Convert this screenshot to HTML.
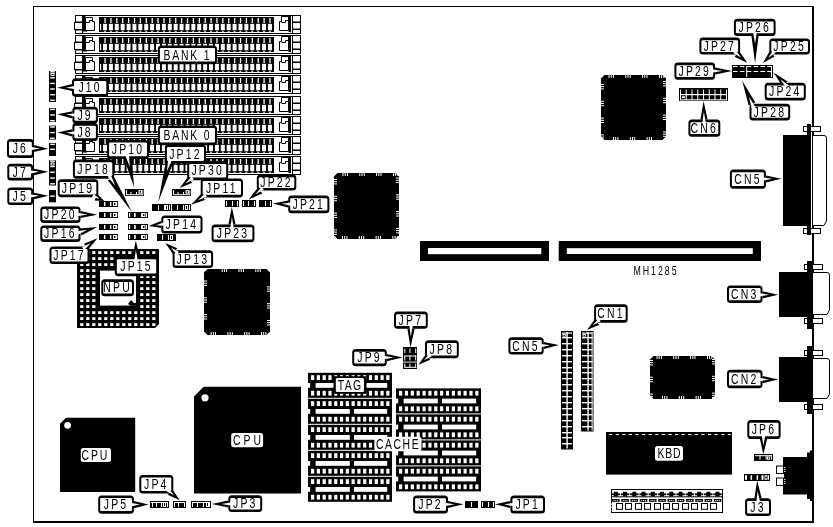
<!DOCTYPE html>
<html><head><meta charset="utf-8"><style>
html,body{margin:0;padding:0;background:#fff;width:833px;height:527px;overflow:hidden}
svg{display:block;will-change:transform}
text{font-family:"Liberation Sans",sans-serif}
</style></head><body>
<svg width="833" height="527" viewBox="0 0 833 527">
<rect x="33.5" y="6.5" width="779" height="515" fill="#fff" stroke="#000" stroke-width="1"/>
<rect x="813.00" y="6.00" width="1.00" height="517.00" fill="#000" />
<rect x="33.00" y="522.00" width="781.00" height="1.00" fill="#000" />
<rect x="75.5" y="15.5" width="225" height="18" fill="#fff" stroke="#000" stroke-width="1"/>
<rect x="75.50" y="15.50" width="7.00" height="6.50" fill="#fff" stroke="#000" stroke-width="1" />
<rect x="74.50" y="22.50" width="8.00" height="7.00" fill="#fff" stroke="#000" stroke-width="1" />
<rect x="75.50" y="30.00" width="7.00" height="3.50" fill="#fff" stroke="#000" stroke-width="1" />
<rect x="82.00" y="15.00" width="3.50" height="16.50" fill="#000" />
<rect x="85.00" y="30.50" width="2.00" height="1.00" fill="#000" />
<path d="M85.5 17.5 H92.5 V21.5 H94.5 V30.5 H85.5 Z M85.5 22.5 H89.5 V20.5 H92.5" fill="none" stroke="#000" stroke-width="1"/>
<rect x="99.00" y="17.00" width="175.00" height="15.00" fill="#000" />
<rect x="104.40" y="18.00" width="1.30" height="5.00" fill="#fff" />
<rect x="103.00" y="23.80" width="4.00" height="6.40" fill="#fff" />
<rect x="104.00" y="30.80" width="2.00" height="0.90" fill="#fff" />
<rect x="110.29" y="18.00" width="1.30" height="5.00" fill="#fff" />
<rect x="108.89" y="23.80" width="4.00" height="6.40" fill="#fff" />
<rect x="109.89" y="30.80" width="2.00" height="0.90" fill="#fff" />
<rect x="116.18" y="18.00" width="1.30" height="5.00" fill="#fff" />
<rect x="114.78" y="23.80" width="4.00" height="6.40" fill="#fff" />
<rect x="115.78" y="30.80" width="2.00" height="0.90" fill="#fff" />
<rect x="122.07" y="18.00" width="1.30" height="5.00" fill="#fff" />
<rect x="120.67" y="23.80" width="4.00" height="6.40" fill="#fff" />
<rect x="121.67" y="30.80" width="2.00" height="0.90" fill="#fff" />
<rect x="127.96" y="18.00" width="1.30" height="5.00" fill="#fff" />
<rect x="126.56" y="23.80" width="4.00" height="6.40" fill="#fff" />
<rect x="127.56" y="30.80" width="2.00" height="0.90" fill="#fff" />
<rect x="133.85" y="18.00" width="1.30" height="5.00" fill="#fff" />
<rect x="132.45" y="23.80" width="4.00" height="6.40" fill="#fff" />
<rect x="133.45" y="30.80" width="2.00" height="0.90" fill="#fff" />
<rect x="139.74" y="18.00" width="1.30" height="5.00" fill="#fff" />
<rect x="138.34" y="23.80" width="4.00" height="6.40" fill="#fff" />
<rect x="139.34" y="30.80" width="2.00" height="0.90" fill="#fff" />
<rect x="145.63" y="18.00" width="1.30" height="5.00" fill="#fff" />
<rect x="144.23" y="23.80" width="4.00" height="6.40" fill="#fff" />
<rect x="145.23" y="30.80" width="2.00" height="0.90" fill="#fff" />
<rect x="151.52" y="18.00" width="1.30" height="5.00" fill="#fff" />
<rect x="150.12" y="23.80" width="4.00" height="6.40" fill="#fff" />
<rect x="151.12" y="30.80" width="2.00" height="0.90" fill="#fff" />
<rect x="157.41" y="18.00" width="1.30" height="5.00" fill="#fff" />
<rect x="156.01" y="23.80" width="4.00" height="6.40" fill="#fff" />
<rect x="157.01" y="30.80" width="2.00" height="0.90" fill="#fff" />
<rect x="163.30" y="18.00" width="1.30" height="5.00" fill="#fff" />
<rect x="161.90" y="23.80" width="4.00" height="6.40" fill="#fff" />
<rect x="162.90" y="30.80" width="2.00" height="0.90" fill="#fff" />
<rect x="169.19" y="18.00" width="1.30" height="5.00" fill="#fff" />
<rect x="167.79" y="23.80" width="4.00" height="6.40" fill="#fff" />
<rect x="168.79" y="30.80" width="2.00" height="0.90" fill="#fff" />
<rect x="175.08" y="18.00" width="1.30" height="5.00" fill="#fff" />
<rect x="173.68" y="23.80" width="4.00" height="6.40" fill="#fff" />
<rect x="174.68" y="30.80" width="2.00" height="0.90" fill="#fff" />
<rect x="180.97" y="18.00" width="1.30" height="5.00" fill="#fff" />
<rect x="179.57" y="23.80" width="4.00" height="6.40" fill="#fff" />
<rect x="180.57" y="30.80" width="2.00" height="0.90" fill="#fff" />
<rect x="186.86" y="18.00" width="1.30" height="5.00" fill="#fff" />
<rect x="185.46" y="23.80" width="4.00" height="6.40" fill="#fff" />
<rect x="186.46" y="30.80" width="2.00" height="0.90" fill="#fff" />
<rect x="192.75" y="18.00" width="1.30" height="5.00" fill="#fff" />
<rect x="191.35" y="23.80" width="4.00" height="6.40" fill="#fff" />
<rect x="192.35" y="30.80" width="2.00" height="0.90" fill="#fff" />
<rect x="198.64" y="18.00" width="1.30" height="5.00" fill="#fff" />
<rect x="197.24" y="23.80" width="4.00" height="6.40" fill="#fff" />
<rect x="198.24" y="30.80" width="2.00" height="0.90" fill="#fff" />
<rect x="204.53" y="18.00" width="1.30" height="5.00" fill="#fff" />
<rect x="203.13" y="23.80" width="4.00" height="6.40" fill="#fff" />
<rect x="204.13" y="30.80" width="2.00" height="0.90" fill="#fff" />
<rect x="210.42" y="18.00" width="1.30" height="5.00" fill="#fff" />
<rect x="209.02" y="23.80" width="4.00" height="6.40" fill="#fff" />
<rect x="210.02" y="30.80" width="2.00" height="0.90" fill="#fff" />
<rect x="216.31" y="18.00" width="1.30" height="5.00" fill="#fff" />
<rect x="214.91" y="23.80" width="4.00" height="6.40" fill="#fff" />
<rect x="215.91" y="30.80" width="2.00" height="0.90" fill="#fff" />
<rect x="222.20" y="18.00" width="1.30" height="5.00" fill="#fff" />
<rect x="220.80" y="23.80" width="4.00" height="6.40" fill="#fff" />
<rect x="221.80" y="30.80" width="2.00" height="0.90" fill="#fff" />
<rect x="228.09" y="18.00" width="1.30" height="5.00" fill="#fff" />
<rect x="226.69" y="23.80" width="4.00" height="6.40" fill="#fff" />
<rect x="227.69" y="30.80" width="2.00" height="0.90" fill="#fff" />
<rect x="233.98" y="18.00" width="1.30" height="5.00" fill="#fff" />
<rect x="232.58" y="23.80" width="4.00" height="6.40" fill="#fff" />
<rect x="233.58" y="30.80" width="2.00" height="0.90" fill="#fff" />
<rect x="239.87" y="18.00" width="1.30" height="5.00" fill="#fff" />
<rect x="238.47" y="23.80" width="4.00" height="6.40" fill="#fff" />
<rect x="239.47" y="30.80" width="2.00" height="0.90" fill="#fff" />
<rect x="245.76" y="18.00" width="1.30" height="5.00" fill="#fff" />
<rect x="244.36" y="23.80" width="4.00" height="6.40" fill="#fff" />
<rect x="245.36" y="30.80" width="2.00" height="0.90" fill="#fff" />
<rect x="251.65" y="18.00" width="1.30" height="5.00" fill="#fff" />
<rect x="250.25" y="23.80" width="4.00" height="6.40" fill="#fff" />
<rect x="251.25" y="30.80" width="2.00" height="0.90" fill="#fff" />
<rect x="257.54" y="18.00" width="1.30" height="5.00" fill="#fff" />
<rect x="256.14" y="23.80" width="4.00" height="6.40" fill="#fff" />
<rect x="257.14" y="30.80" width="2.00" height="0.90" fill="#fff" />
<rect x="263.43" y="18.00" width="1.30" height="5.00" fill="#fff" />
<rect x="262.03" y="23.80" width="4.00" height="6.40" fill="#fff" />
<rect x="263.03" y="30.80" width="2.00" height="0.90" fill="#fff" />
<rect x="269.32" y="18.00" width="1.30" height="5.00" fill="#fff" />
<rect x="267.92" y="23.80" width="4.00" height="6.40" fill="#fff" />
<rect x="268.92" y="30.80" width="2.00" height="0.90" fill="#fff" />
<rect x="100.00" y="24.00" width="1.20" height="6.00" fill="#fff" />
<path d="M279.5 21.5 H281.5 V16.5 H288.5 V30.5 H279.5 Z M281.5 22.5 H285.5 V20.5 H288.5" fill="none" stroke="#000" stroke-width="1"/>
<rect x="288.50" y="16.00" width="2.50" height="16.00" fill="#000" />
<rect x="292.00" y="15.50" width="1.00" height="17.50" fill="#000" />
<rect x="292.50" y="15.50" width="8.00" height="6.50" fill="#fff" stroke="#000" stroke-width="1" />
<rect x="292.50" y="22.50" width="8.00" height="6.50" fill="#fff" stroke="#000" stroke-width="1" />
<rect x="292.50" y="29.50" width="8.00" height="4.00" fill="#fff" stroke="#000" stroke-width="1" />
<rect x="75.5" y="35.5" width="225" height="18" fill="#fff" stroke="#000" stroke-width="1"/>
<rect x="75.50" y="35.50" width="7.00" height="6.50" fill="#fff" stroke="#000" stroke-width="1" />
<rect x="74.50" y="42.50" width="8.00" height="7.00" fill="#fff" stroke="#000" stroke-width="1" />
<rect x="75.50" y="50.00" width="7.00" height="3.50" fill="#fff" stroke="#000" stroke-width="1" />
<rect x="82.00" y="35.00" width="3.50" height="16.50" fill="#000" />
<rect x="85.00" y="50.50" width="2.00" height="1.00" fill="#000" />
<path d="M85.5 37.5 H92.5 V41.5 H94.5 V50.5 H85.5 Z M85.5 42.5 H89.5 V40.5 H92.5" fill="none" stroke="#000" stroke-width="1"/>
<rect x="99.00" y="37.00" width="175.00" height="15.00" fill="#000" />
<rect x="104.40" y="38.00" width="1.30" height="5.00" fill="#fff" />
<rect x="103.00" y="43.80" width="4.00" height="6.40" fill="#fff" />
<rect x="104.00" y="50.80" width="2.00" height="0.90" fill="#fff" />
<rect x="110.29" y="38.00" width="1.30" height="5.00" fill="#fff" />
<rect x="108.89" y="43.80" width="4.00" height="6.40" fill="#fff" />
<rect x="109.89" y="50.80" width="2.00" height="0.90" fill="#fff" />
<rect x="116.18" y="38.00" width="1.30" height="5.00" fill="#fff" />
<rect x="114.78" y="43.80" width="4.00" height="6.40" fill="#fff" />
<rect x="115.78" y="50.80" width="2.00" height="0.90" fill="#fff" />
<rect x="122.07" y="38.00" width="1.30" height="5.00" fill="#fff" />
<rect x="120.67" y="43.80" width="4.00" height="6.40" fill="#fff" />
<rect x="121.67" y="50.80" width="2.00" height="0.90" fill="#fff" />
<rect x="127.96" y="38.00" width="1.30" height="5.00" fill="#fff" />
<rect x="126.56" y="43.80" width="4.00" height="6.40" fill="#fff" />
<rect x="127.56" y="50.80" width="2.00" height="0.90" fill="#fff" />
<rect x="133.85" y="38.00" width="1.30" height="5.00" fill="#fff" />
<rect x="132.45" y="43.80" width="4.00" height="6.40" fill="#fff" />
<rect x="133.45" y="50.80" width="2.00" height="0.90" fill="#fff" />
<rect x="139.74" y="38.00" width="1.30" height="5.00" fill="#fff" />
<rect x="138.34" y="43.80" width="4.00" height="6.40" fill="#fff" />
<rect x="139.34" y="50.80" width="2.00" height="0.90" fill="#fff" />
<rect x="145.63" y="38.00" width="1.30" height="5.00" fill="#fff" />
<rect x="144.23" y="43.80" width="4.00" height="6.40" fill="#fff" />
<rect x="145.23" y="50.80" width="2.00" height="0.90" fill="#fff" />
<rect x="151.52" y="38.00" width="1.30" height="5.00" fill="#fff" />
<rect x="150.12" y="43.80" width="4.00" height="6.40" fill="#fff" />
<rect x="151.12" y="50.80" width="2.00" height="0.90" fill="#fff" />
<rect x="157.41" y="38.00" width="1.30" height="5.00" fill="#fff" />
<rect x="156.01" y="43.80" width="4.00" height="6.40" fill="#fff" />
<rect x="157.01" y="50.80" width="2.00" height="0.90" fill="#fff" />
<rect x="163.30" y="38.00" width="1.30" height="5.00" fill="#fff" />
<rect x="161.90" y="43.80" width="4.00" height="6.40" fill="#fff" />
<rect x="162.90" y="50.80" width="2.00" height="0.90" fill="#fff" />
<rect x="169.19" y="38.00" width="1.30" height="5.00" fill="#fff" />
<rect x="167.79" y="43.80" width="4.00" height="6.40" fill="#fff" />
<rect x="168.79" y="50.80" width="2.00" height="0.90" fill="#fff" />
<rect x="175.08" y="38.00" width="1.30" height="5.00" fill="#fff" />
<rect x="173.68" y="43.80" width="4.00" height="6.40" fill="#fff" />
<rect x="174.68" y="50.80" width="2.00" height="0.90" fill="#fff" />
<rect x="180.97" y="38.00" width="1.30" height="5.00" fill="#fff" />
<rect x="179.57" y="43.80" width="4.00" height="6.40" fill="#fff" />
<rect x="180.57" y="50.80" width="2.00" height="0.90" fill="#fff" />
<rect x="186.86" y="38.00" width="1.30" height="5.00" fill="#fff" />
<rect x="185.46" y="43.80" width="4.00" height="6.40" fill="#fff" />
<rect x="186.46" y="50.80" width="2.00" height="0.90" fill="#fff" />
<rect x="192.75" y="38.00" width="1.30" height="5.00" fill="#fff" />
<rect x="191.35" y="43.80" width="4.00" height="6.40" fill="#fff" />
<rect x="192.35" y="50.80" width="2.00" height="0.90" fill="#fff" />
<rect x="198.64" y="38.00" width="1.30" height="5.00" fill="#fff" />
<rect x="197.24" y="43.80" width="4.00" height="6.40" fill="#fff" />
<rect x="198.24" y="50.80" width="2.00" height="0.90" fill="#fff" />
<rect x="204.53" y="38.00" width="1.30" height="5.00" fill="#fff" />
<rect x="203.13" y="43.80" width="4.00" height="6.40" fill="#fff" />
<rect x="204.13" y="50.80" width="2.00" height="0.90" fill="#fff" />
<rect x="210.42" y="38.00" width="1.30" height="5.00" fill="#fff" />
<rect x="209.02" y="43.80" width="4.00" height="6.40" fill="#fff" />
<rect x="210.02" y="50.80" width="2.00" height="0.90" fill="#fff" />
<rect x="216.31" y="38.00" width="1.30" height="5.00" fill="#fff" />
<rect x="214.91" y="43.80" width="4.00" height="6.40" fill="#fff" />
<rect x="215.91" y="50.80" width="2.00" height="0.90" fill="#fff" />
<rect x="222.20" y="38.00" width="1.30" height="5.00" fill="#fff" />
<rect x="220.80" y="43.80" width="4.00" height="6.40" fill="#fff" />
<rect x="221.80" y="50.80" width="2.00" height="0.90" fill="#fff" />
<rect x="228.09" y="38.00" width="1.30" height="5.00" fill="#fff" />
<rect x="226.69" y="43.80" width="4.00" height="6.40" fill="#fff" />
<rect x="227.69" y="50.80" width="2.00" height="0.90" fill="#fff" />
<rect x="233.98" y="38.00" width="1.30" height="5.00" fill="#fff" />
<rect x="232.58" y="43.80" width="4.00" height="6.40" fill="#fff" />
<rect x="233.58" y="50.80" width="2.00" height="0.90" fill="#fff" />
<rect x="239.87" y="38.00" width="1.30" height="5.00" fill="#fff" />
<rect x="238.47" y="43.80" width="4.00" height="6.40" fill="#fff" />
<rect x="239.47" y="50.80" width="2.00" height="0.90" fill="#fff" />
<rect x="245.76" y="38.00" width="1.30" height="5.00" fill="#fff" />
<rect x="244.36" y="43.80" width="4.00" height="6.40" fill="#fff" />
<rect x="245.36" y="50.80" width="2.00" height="0.90" fill="#fff" />
<rect x="251.65" y="38.00" width="1.30" height="5.00" fill="#fff" />
<rect x="250.25" y="43.80" width="4.00" height="6.40" fill="#fff" />
<rect x="251.25" y="50.80" width="2.00" height="0.90" fill="#fff" />
<rect x="257.54" y="38.00" width="1.30" height="5.00" fill="#fff" />
<rect x="256.14" y="43.80" width="4.00" height="6.40" fill="#fff" />
<rect x="257.14" y="50.80" width="2.00" height="0.90" fill="#fff" />
<rect x="263.43" y="38.00" width="1.30" height="5.00" fill="#fff" />
<rect x="262.03" y="43.80" width="4.00" height="6.40" fill="#fff" />
<rect x="263.03" y="50.80" width="2.00" height="0.90" fill="#fff" />
<rect x="269.32" y="38.00" width="1.30" height="5.00" fill="#fff" />
<rect x="267.92" y="43.80" width="4.00" height="6.40" fill="#fff" />
<rect x="268.92" y="50.80" width="2.00" height="0.90" fill="#fff" />
<rect x="100.00" y="44.00" width="1.20" height="6.00" fill="#fff" />
<path d="M279.5 41.5 H281.5 V36.5 H288.5 V50.5 H279.5 Z M281.5 42.5 H285.5 V40.5 H288.5" fill="none" stroke="#000" stroke-width="1"/>
<rect x="288.50" y="36.00" width="2.50" height="16.00" fill="#000" />
<rect x="292.00" y="35.50" width="1.00" height="17.50" fill="#000" />
<rect x="292.50" y="35.50" width="8.00" height="6.50" fill="#fff" stroke="#000" stroke-width="1" />
<rect x="292.50" y="42.50" width="8.00" height="6.50" fill="#fff" stroke="#000" stroke-width="1" />
<rect x="292.50" y="49.50" width="8.00" height="4.00" fill="#fff" stroke="#000" stroke-width="1" />
<rect x="75.5" y="55.5" width="225" height="18" fill="#fff" stroke="#000" stroke-width="1"/>
<rect x="75.50" y="55.50" width="7.00" height="6.50" fill="#fff" stroke="#000" stroke-width="1" />
<rect x="74.50" y="62.50" width="8.00" height="7.00" fill="#fff" stroke="#000" stroke-width="1" />
<rect x="75.50" y="70.00" width="7.00" height="3.50" fill="#fff" stroke="#000" stroke-width="1" />
<rect x="82.00" y="55.00" width="3.50" height="16.50" fill="#000" />
<rect x="85.00" y="70.50" width="2.00" height="1.00" fill="#000" />
<path d="M85.5 57.5 H92.5 V61.5 H94.5 V70.5 H85.5 Z M85.5 62.5 H89.5 V60.5 H92.5" fill="none" stroke="#000" stroke-width="1"/>
<rect x="99.00" y="57.00" width="175.00" height="15.00" fill="#000" />
<rect x="104.40" y="58.00" width="1.30" height="5.00" fill="#fff" />
<rect x="103.00" y="63.80" width="4.00" height="6.40" fill="#fff" />
<rect x="104.00" y="70.80" width="2.00" height="0.90" fill="#fff" />
<rect x="110.29" y="58.00" width="1.30" height="5.00" fill="#fff" />
<rect x="108.89" y="63.80" width="4.00" height="6.40" fill="#fff" />
<rect x="109.89" y="70.80" width="2.00" height="0.90" fill="#fff" />
<rect x="116.18" y="58.00" width="1.30" height="5.00" fill="#fff" />
<rect x="114.78" y="63.80" width="4.00" height="6.40" fill="#fff" />
<rect x="115.78" y="70.80" width="2.00" height="0.90" fill="#fff" />
<rect x="122.07" y="58.00" width="1.30" height="5.00" fill="#fff" />
<rect x="120.67" y="63.80" width="4.00" height="6.40" fill="#fff" />
<rect x="121.67" y="70.80" width="2.00" height="0.90" fill="#fff" />
<rect x="127.96" y="58.00" width="1.30" height="5.00" fill="#fff" />
<rect x="126.56" y="63.80" width="4.00" height="6.40" fill="#fff" />
<rect x="127.56" y="70.80" width="2.00" height="0.90" fill="#fff" />
<rect x="133.85" y="58.00" width="1.30" height="5.00" fill="#fff" />
<rect x="132.45" y="63.80" width="4.00" height="6.40" fill="#fff" />
<rect x="133.45" y="70.80" width="2.00" height="0.90" fill="#fff" />
<rect x="139.74" y="58.00" width="1.30" height="5.00" fill="#fff" />
<rect x="138.34" y="63.80" width="4.00" height="6.40" fill="#fff" />
<rect x="139.34" y="70.80" width="2.00" height="0.90" fill="#fff" />
<rect x="145.63" y="58.00" width="1.30" height="5.00" fill="#fff" />
<rect x="144.23" y="63.80" width="4.00" height="6.40" fill="#fff" />
<rect x="145.23" y="70.80" width="2.00" height="0.90" fill="#fff" />
<rect x="151.52" y="58.00" width="1.30" height="5.00" fill="#fff" />
<rect x="150.12" y="63.80" width="4.00" height="6.40" fill="#fff" />
<rect x="151.12" y="70.80" width="2.00" height="0.90" fill="#fff" />
<rect x="157.41" y="58.00" width="1.30" height="5.00" fill="#fff" />
<rect x="156.01" y="63.80" width="4.00" height="6.40" fill="#fff" />
<rect x="157.01" y="70.80" width="2.00" height="0.90" fill="#fff" />
<rect x="163.30" y="58.00" width="1.30" height="5.00" fill="#fff" />
<rect x="161.90" y="63.80" width="4.00" height="6.40" fill="#fff" />
<rect x="162.90" y="70.80" width="2.00" height="0.90" fill="#fff" />
<rect x="169.19" y="58.00" width="1.30" height="5.00" fill="#fff" />
<rect x="167.79" y="63.80" width="4.00" height="6.40" fill="#fff" />
<rect x="168.79" y="70.80" width="2.00" height="0.90" fill="#fff" />
<rect x="175.08" y="58.00" width="1.30" height="5.00" fill="#fff" />
<rect x="173.68" y="63.80" width="4.00" height="6.40" fill="#fff" />
<rect x="174.68" y="70.80" width="2.00" height="0.90" fill="#fff" />
<rect x="180.97" y="58.00" width="1.30" height="5.00" fill="#fff" />
<rect x="179.57" y="63.80" width="4.00" height="6.40" fill="#fff" />
<rect x="180.57" y="70.80" width="2.00" height="0.90" fill="#fff" />
<rect x="186.86" y="58.00" width="1.30" height="5.00" fill="#fff" />
<rect x="185.46" y="63.80" width="4.00" height="6.40" fill="#fff" />
<rect x="186.46" y="70.80" width="2.00" height="0.90" fill="#fff" />
<rect x="192.75" y="58.00" width="1.30" height="5.00" fill="#fff" />
<rect x="191.35" y="63.80" width="4.00" height="6.40" fill="#fff" />
<rect x="192.35" y="70.80" width="2.00" height="0.90" fill="#fff" />
<rect x="198.64" y="58.00" width="1.30" height="5.00" fill="#fff" />
<rect x="197.24" y="63.80" width="4.00" height="6.40" fill="#fff" />
<rect x="198.24" y="70.80" width="2.00" height="0.90" fill="#fff" />
<rect x="204.53" y="58.00" width="1.30" height="5.00" fill="#fff" />
<rect x="203.13" y="63.80" width="4.00" height="6.40" fill="#fff" />
<rect x="204.13" y="70.80" width="2.00" height="0.90" fill="#fff" />
<rect x="210.42" y="58.00" width="1.30" height="5.00" fill="#fff" />
<rect x="209.02" y="63.80" width="4.00" height="6.40" fill="#fff" />
<rect x="210.02" y="70.80" width="2.00" height="0.90" fill="#fff" />
<rect x="216.31" y="58.00" width="1.30" height="5.00" fill="#fff" />
<rect x="214.91" y="63.80" width="4.00" height="6.40" fill="#fff" />
<rect x="215.91" y="70.80" width="2.00" height="0.90" fill="#fff" />
<rect x="222.20" y="58.00" width="1.30" height="5.00" fill="#fff" />
<rect x="220.80" y="63.80" width="4.00" height="6.40" fill="#fff" />
<rect x="221.80" y="70.80" width="2.00" height="0.90" fill="#fff" />
<rect x="228.09" y="58.00" width="1.30" height="5.00" fill="#fff" />
<rect x="226.69" y="63.80" width="4.00" height="6.40" fill="#fff" />
<rect x="227.69" y="70.80" width="2.00" height="0.90" fill="#fff" />
<rect x="233.98" y="58.00" width="1.30" height="5.00" fill="#fff" />
<rect x="232.58" y="63.80" width="4.00" height="6.40" fill="#fff" />
<rect x="233.58" y="70.80" width="2.00" height="0.90" fill="#fff" />
<rect x="239.87" y="58.00" width="1.30" height="5.00" fill="#fff" />
<rect x="238.47" y="63.80" width="4.00" height="6.40" fill="#fff" />
<rect x="239.47" y="70.80" width="2.00" height="0.90" fill="#fff" />
<rect x="245.76" y="58.00" width="1.30" height="5.00" fill="#fff" />
<rect x="244.36" y="63.80" width="4.00" height="6.40" fill="#fff" />
<rect x="245.36" y="70.80" width="2.00" height="0.90" fill="#fff" />
<rect x="251.65" y="58.00" width="1.30" height="5.00" fill="#fff" />
<rect x="250.25" y="63.80" width="4.00" height="6.40" fill="#fff" />
<rect x="251.25" y="70.80" width="2.00" height="0.90" fill="#fff" />
<rect x="257.54" y="58.00" width="1.30" height="5.00" fill="#fff" />
<rect x="256.14" y="63.80" width="4.00" height="6.40" fill="#fff" />
<rect x="257.14" y="70.80" width="2.00" height="0.90" fill="#fff" />
<rect x="263.43" y="58.00" width="1.30" height="5.00" fill="#fff" />
<rect x="262.03" y="63.80" width="4.00" height="6.40" fill="#fff" />
<rect x="263.03" y="70.80" width="2.00" height="0.90" fill="#fff" />
<rect x="269.32" y="58.00" width="1.30" height="5.00" fill="#fff" />
<rect x="267.92" y="63.80" width="4.00" height="6.40" fill="#fff" />
<rect x="268.92" y="70.80" width="2.00" height="0.90" fill="#fff" />
<rect x="100.00" y="64.00" width="1.20" height="6.00" fill="#fff" />
<path d="M279.5 61.5 H281.5 V56.5 H288.5 V70.5 H279.5 Z M281.5 62.5 H285.5 V60.5 H288.5" fill="none" stroke="#000" stroke-width="1"/>
<rect x="288.50" y="56.00" width="2.50" height="16.00" fill="#000" />
<rect x="292.00" y="55.50" width="1.00" height="17.50" fill="#000" />
<rect x="292.50" y="55.50" width="8.00" height="6.50" fill="#fff" stroke="#000" stroke-width="1" />
<rect x="292.50" y="62.50" width="8.00" height="6.50" fill="#fff" stroke="#000" stroke-width="1" />
<rect x="292.50" y="69.50" width="8.00" height="4.00" fill="#fff" stroke="#000" stroke-width="1" />
<rect x="75.5" y="75.5" width="225" height="18" fill="#fff" stroke="#000" stroke-width="1"/>
<rect x="75.50" y="75.50" width="7.00" height="6.50" fill="#fff" stroke="#000" stroke-width="1" />
<rect x="74.50" y="82.50" width="8.00" height="7.00" fill="#fff" stroke="#000" stroke-width="1" />
<rect x="75.50" y="90.00" width="7.00" height="3.50" fill="#fff" stroke="#000" stroke-width="1" />
<rect x="82.00" y="75.00" width="3.50" height="16.50" fill="#000" />
<rect x="85.00" y="90.50" width="2.00" height="1.00" fill="#000" />
<path d="M85.5 77.5 H92.5 V81.5 H94.5 V90.5 H85.5 Z M85.5 82.5 H89.5 V80.5 H92.5" fill="none" stroke="#000" stroke-width="1"/>
<rect x="99.00" y="77.00" width="175.00" height="15.00" fill="#000" />
<rect x="104.40" y="78.00" width="1.30" height="5.00" fill="#fff" />
<rect x="103.00" y="83.80" width="4.00" height="6.40" fill="#fff" />
<rect x="104.00" y="90.80" width="2.00" height="0.90" fill="#fff" />
<rect x="110.29" y="78.00" width="1.30" height="5.00" fill="#fff" />
<rect x="108.89" y="83.80" width="4.00" height="6.40" fill="#fff" />
<rect x="109.89" y="90.80" width="2.00" height="0.90" fill="#fff" />
<rect x="116.18" y="78.00" width="1.30" height="5.00" fill="#fff" />
<rect x="114.78" y="83.80" width="4.00" height="6.40" fill="#fff" />
<rect x="115.78" y="90.80" width="2.00" height="0.90" fill="#fff" />
<rect x="122.07" y="78.00" width="1.30" height="5.00" fill="#fff" />
<rect x="120.67" y="83.80" width="4.00" height="6.40" fill="#fff" />
<rect x="121.67" y="90.80" width="2.00" height="0.90" fill="#fff" />
<rect x="127.96" y="78.00" width="1.30" height="5.00" fill="#fff" />
<rect x="126.56" y="83.80" width="4.00" height="6.40" fill="#fff" />
<rect x="127.56" y="90.80" width="2.00" height="0.90" fill="#fff" />
<rect x="133.85" y="78.00" width="1.30" height="5.00" fill="#fff" />
<rect x="132.45" y="83.80" width="4.00" height="6.40" fill="#fff" />
<rect x="133.45" y="90.80" width="2.00" height="0.90" fill="#fff" />
<rect x="139.74" y="78.00" width="1.30" height="5.00" fill="#fff" />
<rect x="138.34" y="83.80" width="4.00" height="6.40" fill="#fff" />
<rect x="139.34" y="90.80" width="2.00" height="0.90" fill="#fff" />
<rect x="145.63" y="78.00" width="1.30" height="5.00" fill="#fff" />
<rect x="144.23" y="83.80" width="4.00" height="6.40" fill="#fff" />
<rect x="145.23" y="90.80" width="2.00" height="0.90" fill="#fff" />
<rect x="151.52" y="78.00" width="1.30" height="5.00" fill="#fff" />
<rect x="150.12" y="83.80" width="4.00" height="6.40" fill="#fff" />
<rect x="151.12" y="90.80" width="2.00" height="0.90" fill="#fff" />
<rect x="157.41" y="78.00" width="1.30" height="5.00" fill="#fff" />
<rect x="156.01" y="83.80" width="4.00" height="6.40" fill="#fff" />
<rect x="157.01" y="90.80" width="2.00" height="0.90" fill="#fff" />
<rect x="163.30" y="78.00" width="1.30" height="5.00" fill="#fff" />
<rect x="161.90" y="83.80" width="4.00" height="6.40" fill="#fff" />
<rect x="162.90" y="90.80" width="2.00" height="0.90" fill="#fff" />
<rect x="169.19" y="78.00" width="1.30" height="5.00" fill="#fff" />
<rect x="167.79" y="83.80" width="4.00" height="6.40" fill="#fff" />
<rect x="168.79" y="90.80" width="2.00" height="0.90" fill="#fff" />
<rect x="175.08" y="78.00" width="1.30" height="5.00" fill="#fff" />
<rect x="173.68" y="83.80" width="4.00" height="6.40" fill="#fff" />
<rect x="174.68" y="90.80" width="2.00" height="0.90" fill="#fff" />
<rect x="180.97" y="78.00" width="1.30" height="5.00" fill="#fff" />
<rect x="179.57" y="83.80" width="4.00" height="6.40" fill="#fff" />
<rect x="180.57" y="90.80" width="2.00" height="0.90" fill="#fff" />
<rect x="186.86" y="78.00" width="1.30" height="5.00" fill="#fff" />
<rect x="185.46" y="83.80" width="4.00" height="6.40" fill="#fff" />
<rect x="186.46" y="90.80" width="2.00" height="0.90" fill="#fff" />
<rect x="192.75" y="78.00" width="1.30" height="5.00" fill="#fff" />
<rect x="191.35" y="83.80" width="4.00" height="6.40" fill="#fff" />
<rect x="192.35" y="90.80" width="2.00" height="0.90" fill="#fff" />
<rect x="198.64" y="78.00" width="1.30" height="5.00" fill="#fff" />
<rect x="197.24" y="83.80" width="4.00" height="6.40" fill="#fff" />
<rect x="198.24" y="90.80" width="2.00" height="0.90" fill="#fff" />
<rect x="204.53" y="78.00" width="1.30" height="5.00" fill="#fff" />
<rect x="203.13" y="83.80" width="4.00" height="6.40" fill="#fff" />
<rect x="204.13" y="90.80" width="2.00" height="0.90" fill="#fff" />
<rect x="210.42" y="78.00" width="1.30" height="5.00" fill="#fff" />
<rect x="209.02" y="83.80" width="4.00" height="6.40" fill="#fff" />
<rect x="210.02" y="90.80" width="2.00" height="0.90" fill="#fff" />
<rect x="216.31" y="78.00" width="1.30" height="5.00" fill="#fff" />
<rect x="214.91" y="83.80" width="4.00" height="6.40" fill="#fff" />
<rect x="215.91" y="90.80" width="2.00" height="0.90" fill="#fff" />
<rect x="222.20" y="78.00" width="1.30" height="5.00" fill="#fff" />
<rect x="220.80" y="83.80" width="4.00" height="6.40" fill="#fff" />
<rect x="221.80" y="90.80" width="2.00" height="0.90" fill="#fff" />
<rect x="228.09" y="78.00" width="1.30" height="5.00" fill="#fff" />
<rect x="226.69" y="83.80" width="4.00" height="6.40" fill="#fff" />
<rect x="227.69" y="90.80" width="2.00" height="0.90" fill="#fff" />
<rect x="233.98" y="78.00" width="1.30" height="5.00" fill="#fff" />
<rect x="232.58" y="83.80" width="4.00" height="6.40" fill="#fff" />
<rect x="233.58" y="90.80" width="2.00" height="0.90" fill="#fff" />
<rect x="239.87" y="78.00" width="1.30" height="5.00" fill="#fff" />
<rect x="238.47" y="83.80" width="4.00" height="6.40" fill="#fff" />
<rect x="239.47" y="90.80" width="2.00" height="0.90" fill="#fff" />
<rect x="245.76" y="78.00" width="1.30" height="5.00" fill="#fff" />
<rect x="244.36" y="83.80" width="4.00" height="6.40" fill="#fff" />
<rect x="245.36" y="90.80" width="2.00" height="0.90" fill="#fff" />
<rect x="251.65" y="78.00" width="1.30" height="5.00" fill="#fff" />
<rect x="250.25" y="83.80" width="4.00" height="6.40" fill="#fff" />
<rect x="251.25" y="90.80" width="2.00" height="0.90" fill="#fff" />
<rect x="257.54" y="78.00" width="1.30" height="5.00" fill="#fff" />
<rect x="256.14" y="83.80" width="4.00" height="6.40" fill="#fff" />
<rect x="257.14" y="90.80" width="2.00" height="0.90" fill="#fff" />
<rect x="263.43" y="78.00" width="1.30" height="5.00" fill="#fff" />
<rect x="262.03" y="83.80" width="4.00" height="6.40" fill="#fff" />
<rect x="263.03" y="90.80" width="2.00" height="0.90" fill="#fff" />
<rect x="269.32" y="78.00" width="1.30" height="5.00" fill="#fff" />
<rect x="267.92" y="83.80" width="4.00" height="6.40" fill="#fff" />
<rect x="268.92" y="90.80" width="2.00" height="0.90" fill="#fff" />
<rect x="100.00" y="84.00" width="1.20" height="6.00" fill="#fff" />
<path d="M279.5 81.5 H281.5 V76.5 H288.5 V90.5 H279.5 Z M281.5 82.5 H285.5 V80.5 H288.5" fill="none" stroke="#000" stroke-width="1"/>
<rect x="288.50" y="76.00" width="2.50" height="16.00" fill="#000" />
<rect x="292.00" y="75.50" width="1.00" height="17.50" fill="#000" />
<rect x="292.50" y="75.50" width="8.00" height="6.50" fill="#fff" stroke="#000" stroke-width="1" />
<rect x="292.50" y="82.50" width="8.00" height="6.50" fill="#fff" stroke="#000" stroke-width="1" />
<rect x="292.50" y="89.50" width="8.00" height="4.00" fill="#fff" stroke="#000" stroke-width="1" />
<rect x="75.5" y="96.5" width="225" height="18" fill="#fff" stroke="#000" stroke-width="1"/>
<rect x="75.50" y="96.50" width="7.00" height="6.50" fill="#fff" stroke="#000" stroke-width="1" />
<rect x="74.50" y="103.50" width="8.00" height="7.00" fill="#fff" stroke="#000" stroke-width="1" />
<rect x="75.50" y="111.00" width="7.00" height="3.50" fill="#fff" stroke="#000" stroke-width="1" />
<rect x="82.00" y="96.00" width="3.50" height="16.50" fill="#000" />
<rect x="85.00" y="111.50" width="2.00" height="1.00" fill="#000" />
<path d="M85.5 98.5 H92.5 V102.5 H94.5 V111.5 H85.5 Z M85.5 103.5 H89.5 V101.5 H92.5" fill="none" stroke="#000" stroke-width="1"/>
<rect x="99.00" y="98.00" width="175.00" height="15.00" fill="#000" />
<rect x="104.40" y="99.00" width="1.30" height="5.00" fill="#fff" />
<rect x="103.00" y="104.80" width="4.00" height="6.40" fill="#fff" />
<rect x="104.00" y="111.80" width="2.00" height="0.90" fill="#fff" />
<rect x="110.29" y="99.00" width="1.30" height="5.00" fill="#fff" />
<rect x="108.89" y="104.80" width="4.00" height="6.40" fill="#fff" />
<rect x="109.89" y="111.80" width="2.00" height="0.90" fill="#fff" />
<rect x="116.18" y="99.00" width="1.30" height="5.00" fill="#fff" />
<rect x="114.78" y="104.80" width="4.00" height="6.40" fill="#fff" />
<rect x="115.78" y="111.80" width="2.00" height="0.90" fill="#fff" />
<rect x="122.07" y="99.00" width="1.30" height="5.00" fill="#fff" />
<rect x="120.67" y="104.80" width="4.00" height="6.40" fill="#fff" />
<rect x="121.67" y="111.80" width="2.00" height="0.90" fill="#fff" />
<rect x="127.96" y="99.00" width="1.30" height="5.00" fill="#fff" />
<rect x="126.56" y="104.80" width="4.00" height="6.40" fill="#fff" />
<rect x="127.56" y="111.80" width="2.00" height="0.90" fill="#fff" />
<rect x="133.85" y="99.00" width="1.30" height="5.00" fill="#fff" />
<rect x="132.45" y="104.80" width="4.00" height="6.40" fill="#fff" />
<rect x="133.45" y="111.80" width="2.00" height="0.90" fill="#fff" />
<rect x="139.74" y="99.00" width="1.30" height="5.00" fill="#fff" />
<rect x="138.34" y="104.80" width="4.00" height="6.40" fill="#fff" />
<rect x="139.34" y="111.80" width="2.00" height="0.90" fill="#fff" />
<rect x="145.63" y="99.00" width="1.30" height="5.00" fill="#fff" />
<rect x="144.23" y="104.80" width="4.00" height="6.40" fill="#fff" />
<rect x="145.23" y="111.80" width="2.00" height="0.90" fill="#fff" />
<rect x="151.52" y="99.00" width="1.30" height="5.00" fill="#fff" />
<rect x="150.12" y="104.80" width="4.00" height="6.40" fill="#fff" />
<rect x="151.12" y="111.80" width="2.00" height="0.90" fill="#fff" />
<rect x="157.41" y="99.00" width="1.30" height="5.00" fill="#fff" />
<rect x="156.01" y="104.80" width="4.00" height="6.40" fill="#fff" />
<rect x="157.01" y="111.80" width="2.00" height="0.90" fill="#fff" />
<rect x="163.30" y="99.00" width="1.30" height="5.00" fill="#fff" />
<rect x="161.90" y="104.80" width="4.00" height="6.40" fill="#fff" />
<rect x="162.90" y="111.80" width="2.00" height="0.90" fill="#fff" />
<rect x="169.19" y="99.00" width="1.30" height="5.00" fill="#fff" />
<rect x="167.79" y="104.80" width="4.00" height="6.40" fill="#fff" />
<rect x="168.79" y="111.80" width="2.00" height="0.90" fill="#fff" />
<rect x="175.08" y="99.00" width="1.30" height="5.00" fill="#fff" />
<rect x="173.68" y="104.80" width="4.00" height="6.40" fill="#fff" />
<rect x="174.68" y="111.80" width="2.00" height="0.90" fill="#fff" />
<rect x="180.97" y="99.00" width="1.30" height="5.00" fill="#fff" />
<rect x="179.57" y="104.80" width="4.00" height="6.40" fill="#fff" />
<rect x="180.57" y="111.80" width="2.00" height="0.90" fill="#fff" />
<rect x="186.86" y="99.00" width="1.30" height="5.00" fill="#fff" />
<rect x="185.46" y="104.80" width="4.00" height="6.40" fill="#fff" />
<rect x="186.46" y="111.80" width="2.00" height="0.90" fill="#fff" />
<rect x="192.75" y="99.00" width="1.30" height="5.00" fill="#fff" />
<rect x="191.35" y="104.80" width="4.00" height="6.40" fill="#fff" />
<rect x="192.35" y="111.80" width="2.00" height="0.90" fill="#fff" />
<rect x="198.64" y="99.00" width="1.30" height="5.00" fill="#fff" />
<rect x="197.24" y="104.80" width="4.00" height="6.40" fill="#fff" />
<rect x="198.24" y="111.80" width="2.00" height="0.90" fill="#fff" />
<rect x="204.53" y="99.00" width="1.30" height="5.00" fill="#fff" />
<rect x="203.13" y="104.80" width="4.00" height="6.40" fill="#fff" />
<rect x="204.13" y="111.80" width="2.00" height="0.90" fill="#fff" />
<rect x="210.42" y="99.00" width="1.30" height="5.00" fill="#fff" />
<rect x="209.02" y="104.80" width="4.00" height="6.40" fill="#fff" />
<rect x="210.02" y="111.80" width="2.00" height="0.90" fill="#fff" />
<rect x="216.31" y="99.00" width="1.30" height="5.00" fill="#fff" />
<rect x="214.91" y="104.80" width="4.00" height="6.40" fill="#fff" />
<rect x="215.91" y="111.80" width="2.00" height="0.90" fill="#fff" />
<rect x="222.20" y="99.00" width="1.30" height="5.00" fill="#fff" />
<rect x="220.80" y="104.80" width="4.00" height="6.40" fill="#fff" />
<rect x="221.80" y="111.80" width="2.00" height="0.90" fill="#fff" />
<rect x="228.09" y="99.00" width="1.30" height="5.00" fill="#fff" />
<rect x="226.69" y="104.80" width="4.00" height="6.40" fill="#fff" />
<rect x="227.69" y="111.80" width="2.00" height="0.90" fill="#fff" />
<rect x="233.98" y="99.00" width="1.30" height="5.00" fill="#fff" />
<rect x="232.58" y="104.80" width="4.00" height="6.40" fill="#fff" />
<rect x="233.58" y="111.80" width="2.00" height="0.90" fill="#fff" />
<rect x="239.87" y="99.00" width="1.30" height="5.00" fill="#fff" />
<rect x="238.47" y="104.80" width="4.00" height="6.40" fill="#fff" />
<rect x="239.47" y="111.80" width="2.00" height="0.90" fill="#fff" />
<rect x="245.76" y="99.00" width="1.30" height="5.00" fill="#fff" />
<rect x="244.36" y="104.80" width="4.00" height="6.40" fill="#fff" />
<rect x="245.36" y="111.80" width="2.00" height="0.90" fill="#fff" />
<rect x="251.65" y="99.00" width="1.30" height="5.00" fill="#fff" />
<rect x="250.25" y="104.80" width="4.00" height="6.40" fill="#fff" />
<rect x="251.25" y="111.80" width="2.00" height="0.90" fill="#fff" />
<rect x="257.54" y="99.00" width="1.30" height="5.00" fill="#fff" />
<rect x="256.14" y="104.80" width="4.00" height="6.40" fill="#fff" />
<rect x="257.14" y="111.80" width="2.00" height="0.90" fill="#fff" />
<rect x="263.43" y="99.00" width="1.30" height="5.00" fill="#fff" />
<rect x="262.03" y="104.80" width="4.00" height="6.40" fill="#fff" />
<rect x="263.03" y="111.80" width="2.00" height="0.90" fill="#fff" />
<rect x="269.32" y="99.00" width="1.30" height="5.00" fill="#fff" />
<rect x="267.92" y="104.80" width="4.00" height="6.40" fill="#fff" />
<rect x="268.92" y="111.80" width="2.00" height="0.90" fill="#fff" />
<rect x="100.00" y="105.00" width="1.20" height="6.00" fill="#fff" />
<path d="M279.5 102.5 H281.5 V97.5 H288.5 V111.5 H279.5 Z M281.5 103.5 H285.5 V101.5 H288.5" fill="none" stroke="#000" stroke-width="1"/>
<rect x="288.50" y="97.00" width="2.50" height="16.00" fill="#000" />
<rect x="292.00" y="96.50" width="1.00" height="17.50" fill="#000" />
<rect x="292.50" y="96.50" width="8.00" height="6.50" fill="#fff" stroke="#000" stroke-width="1" />
<rect x="292.50" y="103.50" width="8.00" height="6.50" fill="#fff" stroke="#000" stroke-width="1" />
<rect x="292.50" y="110.50" width="8.00" height="4.00" fill="#fff" stroke="#000" stroke-width="1" />
<rect x="75.5" y="116.5" width="225" height="18" fill="#fff" stroke="#000" stroke-width="1"/>
<rect x="75.50" y="116.50" width="7.00" height="6.50" fill="#fff" stroke="#000" stroke-width="1" />
<rect x="74.50" y="123.50" width="8.00" height="7.00" fill="#fff" stroke="#000" stroke-width="1" />
<rect x="75.50" y="131.00" width="7.00" height="3.50" fill="#fff" stroke="#000" stroke-width="1" />
<rect x="82.00" y="116.00" width="3.50" height="16.50" fill="#000" />
<rect x="85.00" y="131.50" width="2.00" height="1.00" fill="#000" />
<path d="M85.5 118.5 H92.5 V122.5 H94.5 V131.5 H85.5 Z M85.5 123.5 H89.5 V121.5 H92.5" fill="none" stroke="#000" stroke-width="1"/>
<rect x="99.00" y="118.00" width="175.00" height="15.00" fill="#000" />
<rect x="104.40" y="119.00" width="1.30" height="5.00" fill="#fff" />
<rect x="103.00" y="124.80" width="4.00" height="6.40" fill="#fff" />
<rect x="104.00" y="131.80" width="2.00" height="0.90" fill="#fff" />
<rect x="110.29" y="119.00" width="1.30" height="5.00" fill="#fff" />
<rect x="108.89" y="124.80" width="4.00" height="6.40" fill="#fff" />
<rect x="109.89" y="131.80" width="2.00" height="0.90" fill="#fff" />
<rect x="116.18" y="119.00" width="1.30" height="5.00" fill="#fff" />
<rect x="114.78" y="124.80" width="4.00" height="6.40" fill="#fff" />
<rect x="115.78" y="131.80" width="2.00" height="0.90" fill="#fff" />
<rect x="122.07" y="119.00" width="1.30" height="5.00" fill="#fff" />
<rect x="120.67" y="124.80" width="4.00" height="6.40" fill="#fff" />
<rect x="121.67" y="131.80" width="2.00" height="0.90" fill="#fff" />
<rect x="127.96" y="119.00" width="1.30" height="5.00" fill="#fff" />
<rect x="126.56" y="124.80" width="4.00" height="6.40" fill="#fff" />
<rect x="127.56" y="131.80" width="2.00" height="0.90" fill="#fff" />
<rect x="133.85" y="119.00" width="1.30" height="5.00" fill="#fff" />
<rect x="132.45" y="124.80" width="4.00" height="6.40" fill="#fff" />
<rect x="133.45" y="131.80" width="2.00" height="0.90" fill="#fff" />
<rect x="139.74" y="119.00" width="1.30" height="5.00" fill="#fff" />
<rect x="138.34" y="124.80" width="4.00" height="6.40" fill="#fff" />
<rect x="139.34" y="131.80" width="2.00" height="0.90" fill="#fff" />
<rect x="145.63" y="119.00" width="1.30" height="5.00" fill="#fff" />
<rect x="144.23" y="124.80" width="4.00" height="6.40" fill="#fff" />
<rect x="145.23" y="131.80" width="2.00" height="0.90" fill="#fff" />
<rect x="151.52" y="119.00" width="1.30" height="5.00" fill="#fff" />
<rect x="150.12" y="124.80" width="4.00" height="6.40" fill="#fff" />
<rect x="151.12" y="131.80" width="2.00" height="0.90" fill="#fff" />
<rect x="157.41" y="119.00" width="1.30" height="5.00" fill="#fff" />
<rect x="156.01" y="124.80" width="4.00" height="6.40" fill="#fff" />
<rect x="157.01" y="131.80" width="2.00" height="0.90" fill="#fff" />
<rect x="163.30" y="119.00" width="1.30" height="5.00" fill="#fff" />
<rect x="161.90" y="124.80" width="4.00" height="6.40" fill="#fff" />
<rect x="162.90" y="131.80" width="2.00" height="0.90" fill="#fff" />
<rect x="169.19" y="119.00" width="1.30" height="5.00" fill="#fff" />
<rect x="167.79" y="124.80" width="4.00" height="6.40" fill="#fff" />
<rect x="168.79" y="131.80" width="2.00" height="0.90" fill="#fff" />
<rect x="175.08" y="119.00" width="1.30" height="5.00" fill="#fff" />
<rect x="173.68" y="124.80" width="4.00" height="6.40" fill="#fff" />
<rect x="174.68" y="131.80" width="2.00" height="0.90" fill="#fff" />
<rect x="180.97" y="119.00" width="1.30" height="5.00" fill="#fff" />
<rect x="179.57" y="124.80" width="4.00" height="6.40" fill="#fff" />
<rect x="180.57" y="131.80" width="2.00" height="0.90" fill="#fff" />
<rect x="186.86" y="119.00" width="1.30" height="5.00" fill="#fff" />
<rect x="185.46" y="124.80" width="4.00" height="6.40" fill="#fff" />
<rect x="186.46" y="131.80" width="2.00" height="0.90" fill="#fff" />
<rect x="192.75" y="119.00" width="1.30" height="5.00" fill="#fff" />
<rect x="191.35" y="124.80" width="4.00" height="6.40" fill="#fff" />
<rect x="192.35" y="131.80" width="2.00" height="0.90" fill="#fff" />
<rect x="198.64" y="119.00" width="1.30" height="5.00" fill="#fff" />
<rect x="197.24" y="124.80" width="4.00" height="6.40" fill="#fff" />
<rect x="198.24" y="131.80" width="2.00" height="0.90" fill="#fff" />
<rect x="204.53" y="119.00" width="1.30" height="5.00" fill="#fff" />
<rect x="203.13" y="124.80" width="4.00" height="6.40" fill="#fff" />
<rect x="204.13" y="131.80" width="2.00" height="0.90" fill="#fff" />
<rect x="210.42" y="119.00" width="1.30" height="5.00" fill="#fff" />
<rect x="209.02" y="124.80" width="4.00" height="6.40" fill="#fff" />
<rect x="210.02" y="131.80" width="2.00" height="0.90" fill="#fff" />
<rect x="216.31" y="119.00" width="1.30" height="5.00" fill="#fff" />
<rect x="214.91" y="124.80" width="4.00" height="6.40" fill="#fff" />
<rect x="215.91" y="131.80" width="2.00" height="0.90" fill="#fff" />
<rect x="222.20" y="119.00" width="1.30" height="5.00" fill="#fff" />
<rect x="220.80" y="124.80" width="4.00" height="6.40" fill="#fff" />
<rect x="221.80" y="131.80" width="2.00" height="0.90" fill="#fff" />
<rect x="228.09" y="119.00" width="1.30" height="5.00" fill="#fff" />
<rect x="226.69" y="124.80" width="4.00" height="6.40" fill="#fff" />
<rect x="227.69" y="131.80" width="2.00" height="0.90" fill="#fff" />
<rect x="233.98" y="119.00" width="1.30" height="5.00" fill="#fff" />
<rect x="232.58" y="124.80" width="4.00" height="6.40" fill="#fff" />
<rect x="233.58" y="131.80" width="2.00" height="0.90" fill="#fff" />
<rect x="239.87" y="119.00" width="1.30" height="5.00" fill="#fff" />
<rect x="238.47" y="124.80" width="4.00" height="6.40" fill="#fff" />
<rect x="239.47" y="131.80" width="2.00" height="0.90" fill="#fff" />
<rect x="245.76" y="119.00" width="1.30" height="5.00" fill="#fff" />
<rect x="244.36" y="124.80" width="4.00" height="6.40" fill="#fff" />
<rect x="245.36" y="131.80" width="2.00" height="0.90" fill="#fff" />
<rect x="251.65" y="119.00" width="1.30" height="5.00" fill="#fff" />
<rect x="250.25" y="124.80" width="4.00" height="6.40" fill="#fff" />
<rect x="251.25" y="131.80" width="2.00" height="0.90" fill="#fff" />
<rect x="257.54" y="119.00" width="1.30" height="5.00" fill="#fff" />
<rect x="256.14" y="124.80" width="4.00" height="6.40" fill="#fff" />
<rect x="257.14" y="131.80" width="2.00" height="0.90" fill="#fff" />
<rect x="263.43" y="119.00" width="1.30" height="5.00" fill="#fff" />
<rect x="262.03" y="124.80" width="4.00" height="6.40" fill="#fff" />
<rect x="263.03" y="131.80" width="2.00" height="0.90" fill="#fff" />
<rect x="269.32" y="119.00" width="1.30" height="5.00" fill="#fff" />
<rect x="267.92" y="124.80" width="4.00" height="6.40" fill="#fff" />
<rect x="268.92" y="131.80" width="2.00" height="0.90" fill="#fff" />
<rect x="100.00" y="125.00" width="1.20" height="6.00" fill="#fff" />
<path d="M279.5 122.5 H281.5 V117.5 H288.5 V131.5 H279.5 Z M281.5 123.5 H285.5 V121.5 H288.5" fill="none" stroke="#000" stroke-width="1"/>
<rect x="288.50" y="117.00" width="2.50" height="16.00" fill="#000" />
<rect x="292.00" y="116.50" width="1.00" height="17.50" fill="#000" />
<rect x="292.50" y="116.50" width="8.00" height="6.50" fill="#fff" stroke="#000" stroke-width="1" />
<rect x="292.50" y="123.50" width="8.00" height="6.50" fill="#fff" stroke="#000" stroke-width="1" />
<rect x="292.50" y="130.50" width="8.00" height="4.00" fill="#fff" stroke="#000" stroke-width="1" />
<rect x="75.5" y="136.5" width="225" height="18" fill="#fff" stroke="#000" stroke-width="1"/>
<rect x="75.50" y="136.50" width="7.00" height="6.50" fill="#fff" stroke="#000" stroke-width="1" />
<rect x="74.50" y="143.50" width="8.00" height="7.00" fill="#fff" stroke="#000" stroke-width="1" />
<rect x="75.50" y="151.00" width="7.00" height="3.50" fill="#fff" stroke="#000" stroke-width="1" />
<rect x="82.00" y="136.00" width="3.50" height="16.50" fill="#000" />
<rect x="85.00" y="151.50" width="2.00" height="1.00" fill="#000" />
<path d="M85.5 138.5 H92.5 V142.5 H94.5 V151.5 H85.5 Z M85.5 143.5 H89.5 V141.5 H92.5" fill="none" stroke="#000" stroke-width="1"/>
<rect x="99.00" y="138.00" width="175.00" height="15.00" fill="#000" />
<rect x="104.40" y="139.00" width="1.30" height="5.00" fill="#fff" />
<rect x="103.00" y="144.80" width="4.00" height="6.40" fill="#fff" />
<rect x="104.00" y="151.80" width="2.00" height="0.90" fill="#fff" />
<rect x="110.29" y="139.00" width="1.30" height="5.00" fill="#fff" />
<rect x="108.89" y="144.80" width="4.00" height="6.40" fill="#fff" />
<rect x="109.89" y="151.80" width="2.00" height="0.90" fill="#fff" />
<rect x="116.18" y="139.00" width="1.30" height="5.00" fill="#fff" />
<rect x="114.78" y="144.80" width="4.00" height="6.40" fill="#fff" />
<rect x="115.78" y="151.80" width="2.00" height="0.90" fill="#fff" />
<rect x="122.07" y="139.00" width="1.30" height="5.00" fill="#fff" />
<rect x="120.67" y="144.80" width="4.00" height="6.40" fill="#fff" />
<rect x="121.67" y="151.80" width="2.00" height="0.90" fill="#fff" />
<rect x="127.96" y="139.00" width="1.30" height="5.00" fill="#fff" />
<rect x="126.56" y="144.80" width="4.00" height="6.40" fill="#fff" />
<rect x="127.56" y="151.80" width="2.00" height="0.90" fill="#fff" />
<rect x="133.85" y="139.00" width="1.30" height="5.00" fill="#fff" />
<rect x="132.45" y="144.80" width="4.00" height="6.40" fill="#fff" />
<rect x="133.45" y="151.80" width="2.00" height="0.90" fill="#fff" />
<rect x="139.74" y="139.00" width="1.30" height="5.00" fill="#fff" />
<rect x="138.34" y="144.80" width="4.00" height="6.40" fill="#fff" />
<rect x="139.34" y="151.80" width="2.00" height="0.90" fill="#fff" />
<rect x="145.63" y="139.00" width="1.30" height="5.00" fill="#fff" />
<rect x="144.23" y="144.80" width="4.00" height="6.40" fill="#fff" />
<rect x="145.23" y="151.80" width="2.00" height="0.90" fill="#fff" />
<rect x="151.52" y="139.00" width="1.30" height="5.00" fill="#fff" />
<rect x="150.12" y="144.80" width="4.00" height="6.40" fill="#fff" />
<rect x="151.12" y="151.80" width="2.00" height="0.90" fill="#fff" />
<rect x="157.41" y="139.00" width="1.30" height="5.00" fill="#fff" />
<rect x="156.01" y="144.80" width="4.00" height="6.40" fill="#fff" />
<rect x="157.01" y="151.80" width="2.00" height="0.90" fill="#fff" />
<rect x="163.30" y="139.00" width="1.30" height="5.00" fill="#fff" />
<rect x="161.90" y="144.80" width="4.00" height="6.40" fill="#fff" />
<rect x="162.90" y="151.80" width="2.00" height="0.90" fill="#fff" />
<rect x="169.19" y="139.00" width="1.30" height="5.00" fill="#fff" />
<rect x="167.79" y="144.80" width="4.00" height="6.40" fill="#fff" />
<rect x="168.79" y="151.80" width="2.00" height="0.90" fill="#fff" />
<rect x="175.08" y="139.00" width="1.30" height="5.00" fill="#fff" />
<rect x="173.68" y="144.80" width="4.00" height="6.40" fill="#fff" />
<rect x="174.68" y="151.80" width="2.00" height="0.90" fill="#fff" />
<rect x="180.97" y="139.00" width="1.30" height="5.00" fill="#fff" />
<rect x="179.57" y="144.80" width="4.00" height="6.40" fill="#fff" />
<rect x="180.57" y="151.80" width="2.00" height="0.90" fill="#fff" />
<rect x="186.86" y="139.00" width="1.30" height="5.00" fill="#fff" />
<rect x="185.46" y="144.80" width="4.00" height="6.40" fill="#fff" />
<rect x="186.46" y="151.80" width="2.00" height="0.90" fill="#fff" />
<rect x="192.75" y="139.00" width="1.30" height="5.00" fill="#fff" />
<rect x="191.35" y="144.80" width="4.00" height="6.40" fill="#fff" />
<rect x="192.35" y="151.80" width="2.00" height="0.90" fill="#fff" />
<rect x="198.64" y="139.00" width="1.30" height="5.00" fill="#fff" />
<rect x="197.24" y="144.80" width="4.00" height="6.40" fill="#fff" />
<rect x="198.24" y="151.80" width="2.00" height="0.90" fill="#fff" />
<rect x="204.53" y="139.00" width="1.30" height="5.00" fill="#fff" />
<rect x="203.13" y="144.80" width="4.00" height="6.40" fill="#fff" />
<rect x="204.13" y="151.80" width="2.00" height="0.90" fill="#fff" />
<rect x="210.42" y="139.00" width="1.30" height="5.00" fill="#fff" />
<rect x="209.02" y="144.80" width="4.00" height="6.40" fill="#fff" />
<rect x="210.02" y="151.80" width="2.00" height="0.90" fill="#fff" />
<rect x="216.31" y="139.00" width="1.30" height="5.00" fill="#fff" />
<rect x="214.91" y="144.80" width="4.00" height="6.40" fill="#fff" />
<rect x="215.91" y="151.80" width="2.00" height="0.90" fill="#fff" />
<rect x="222.20" y="139.00" width="1.30" height="5.00" fill="#fff" />
<rect x="220.80" y="144.80" width="4.00" height="6.40" fill="#fff" />
<rect x="221.80" y="151.80" width="2.00" height="0.90" fill="#fff" />
<rect x="228.09" y="139.00" width="1.30" height="5.00" fill="#fff" />
<rect x="226.69" y="144.80" width="4.00" height="6.40" fill="#fff" />
<rect x="227.69" y="151.80" width="2.00" height="0.90" fill="#fff" />
<rect x="233.98" y="139.00" width="1.30" height="5.00" fill="#fff" />
<rect x="232.58" y="144.80" width="4.00" height="6.40" fill="#fff" />
<rect x="233.58" y="151.80" width="2.00" height="0.90" fill="#fff" />
<rect x="239.87" y="139.00" width="1.30" height="5.00" fill="#fff" />
<rect x="238.47" y="144.80" width="4.00" height="6.40" fill="#fff" />
<rect x="239.47" y="151.80" width="2.00" height="0.90" fill="#fff" />
<rect x="245.76" y="139.00" width="1.30" height="5.00" fill="#fff" />
<rect x="244.36" y="144.80" width="4.00" height="6.40" fill="#fff" />
<rect x="245.36" y="151.80" width="2.00" height="0.90" fill="#fff" />
<rect x="251.65" y="139.00" width="1.30" height="5.00" fill="#fff" />
<rect x="250.25" y="144.80" width="4.00" height="6.40" fill="#fff" />
<rect x="251.25" y="151.80" width="2.00" height="0.90" fill="#fff" />
<rect x="257.54" y="139.00" width="1.30" height="5.00" fill="#fff" />
<rect x="256.14" y="144.80" width="4.00" height="6.40" fill="#fff" />
<rect x="257.14" y="151.80" width="2.00" height="0.90" fill="#fff" />
<rect x="263.43" y="139.00" width="1.30" height="5.00" fill="#fff" />
<rect x="262.03" y="144.80" width="4.00" height="6.40" fill="#fff" />
<rect x="263.03" y="151.80" width="2.00" height="0.90" fill="#fff" />
<rect x="269.32" y="139.00" width="1.30" height="5.00" fill="#fff" />
<rect x="267.92" y="144.80" width="4.00" height="6.40" fill="#fff" />
<rect x="268.92" y="151.80" width="2.00" height="0.90" fill="#fff" />
<rect x="100.00" y="145.00" width="1.20" height="6.00" fill="#fff" />
<path d="M279.5 142.5 H281.5 V137.5 H288.5 V151.5 H279.5 Z M281.5 143.5 H285.5 V141.5 H288.5" fill="none" stroke="#000" stroke-width="1"/>
<rect x="288.50" y="137.00" width="2.50" height="16.00" fill="#000" />
<rect x="292.00" y="136.50" width="1.00" height="17.50" fill="#000" />
<rect x="292.50" y="136.50" width="8.00" height="6.50" fill="#fff" stroke="#000" stroke-width="1" />
<rect x="292.50" y="143.50" width="8.00" height="6.50" fill="#fff" stroke="#000" stroke-width="1" />
<rect x="292.50" y="150.50" width="8.00" height="4.00" fill="#fff" stroke="#000" stroke-width="1" />
<rect x="75.5" y="156.5" width="225" height="18" fill="#fff" stroke="#000" stroke-width="1"/>
<rect x="75.50" y="156.50" width="7.00" height="6.50" fill="#fff" stroke="#000" stroke-width="1" />
<rect x="74.50" y="163.50" width="8.00" height="7.00" fill="#fff" stroke="#000" stroke-width="1" />
<rect x="75.50" y="171.00" width="7.00" height="3.50" fill="#fff" stroke="#000" stroke-width="1" />
<rect x="82.00" y="156.00" width="3.50" height="16.50" fill="#000" />
<rect x="85.00" y="171.50" width="2.00" height="1.00" fill="#000" />
<path d="M85.5 158.5 H92.5 V162.5 H94.5 V171.5 H85.5 Z M85.5 163.5 H89.5 V161.5 H92.5" fill="none" stroke="#000" stroke-width="1"/>
<rect x="99.00" y="158.00" width="175.00" height="15.00" fill="#000" />
<rect x="104.40" y="159.00" width="1.30" height="5.00" fill="#fff" />
<rect x="103.00" y="164.80" width="4.00" height="6.40" fill="#fff" />
<rect x="104.00" y="171.80" width="2.00" height="0.90" fill="#fff" />
<rect x="110.29" y="159.00" width="1.30" height="5.00" fill="#fff" />
<rect x="108.89" y="164.80" width="4.00" height="6.40" fill="#fff" />
<rect x="109.89" y="171.80" width="2.00" height="0.90" fill="#fff" />
<rect x="116.18" y="159.00" width="1.30" height="5.00" fill="#fff" />
<rect x="114.78" y="164.80" width="4.00" height="6.40" fill="#fff" />
<rect x="115.78" y="171.80" width="2.00" height="0.90" fill="#fff" />
<rect x="122.07" y="159.00" width="1.30" height="5.00" fill="#fff" />
<rect x="120.67" y="164.80" width="4.00" height="6.40" fill="#fff" />
<rect x="121.67" y="171.80" width="2.00" height="0.90" fill="#fff" />
<rect x="127.96" y="159.00" width="1.30" height="5.00" fill="#fff" />
<rect x="126.56" y="164.80" width="4.00" height="6.40" fill="#fff" />
<rect x="127.56" y="171.80" width="2.00" height="0.90" fill="#fff" />
<rect x="133.85" y="159.00" width="1.30" height="5.00" fill="#fff" />
<rect x="132.45" y="164.80" width="4.00" height="6.40" fill="#fff" />
<rect x="133.45" y="171.80" width="2.00" height="0.90" fill="#fff" />
<rect x="139.74" y="159.00" width="1.30" height="5.00" fill="#fff" />
<rect x="138.34" y="164.80" width="4.00" height="6.40" fill="#fff" />
<rect x="139.34" y="171.80" width="2.00" height="0.90" fill="#fff" />
<rect x="145.63" y="159.00" width="1.30" height="5.00" fill="#fff" />
<rect x="144.23" y="164.80" width="4.00" height="6.40" fill="#fff" />
<rect x="145.23" y="171.80" width="2.00" height="0.90" fill="#fff" />
<rect x="151.52" y="159.00" width="1.30" height="5.00" fill="#fff" />
<rect x="150.12" y="164.80" width="4.00" height="6.40" fill="#fff" />
<rect x="151.12" y="171.80" width="2.00" height="0.90" fill="#fff" />
<rect x="157.41" y="159.00" width="1.30" height="5.00" fill="#fff" />
<rect x="156.01" y="164.80" width="4.00" height="6.40" fill="#fff" />
<rect x="157.01" y="171.80" width="2.00" height="0.90" fill="#fff" />
<rect x="163.30" y="159.00" width="1.30" height="5.00" fill="#fff" />
<rect x="161.90" y="164.80" width="4.00" height="6.40" fill="#fff" />
<rect x="162.90" y="171.80" width="2.00" height="0.90" fill="#fff" />
<rect x="169.19" y="159.00" width="1.30" height="5.00" fill="#fff" />
<rect x="167.79" y="164.80" width="4.00" height="6.40" fill="#fff" />
<rect x="168.79" y="171.80" width="2.00" height="0.90" fill="#fff" />
<rect x="175.08" y="159.00" width="1.30" height="5.00" fill="#fff" />
<rect x="173.68" y="164.80" width="4.00" height="6.40" fill="#fff" />
<rect x="174.68" y="171.80" width="2.00" height="0.90" fill="#fff" />
<rect x="180.97" y="159.00" width="1.30" height="5.00" fill="#fff" />
<rect x="179.57" y="164.80" width="4.00" height="6.40" fill="#fff" />
<rect x="180.57" y="171.80" width="2.00" height="0.90" fill="#fff" />
<rect x="186.86" y="159.00" width="1.30" height="5.00" fill="#fff" />
<rect x="185.46" y="164.80" width="4.00" height="6.40" fill="#fff" />
<rect x="186.46" y="171.80" width="2.00" height="0.90" fill="#fff" />
<rect x="192.75" y="159.00" width="1.30" height="5.00" fill="#fff" />
<rect x="191.35" y="164.80" width="4.00" height="6.40" fill="#fff" />
<rect x="192.35" y="171.80" width="2.00" height="0.90" fill="#fff" />
<rect x="198.64" y="159.00" width="1.30" height="5.00" fill="#fff" />
<rect x="197.24" y="164.80" width="4.00" height="6.40" fill="#fff" />
<rect x="198.24" y="171.80" width="2.00" height="0.90" fill="#fff" />
<rect x="204.53" y="159.00" width="1.30" height="5.00" fill="#fff" />
<rect x="203.13" y="164.80" width="4.00" height="6.40" fill="#fff" />
<rect x="204.13" y="171.80" width="2.00" height="0.90" fill="#fff" />
<rect x="210.42" y="159.00" width="1.30" height="5.00" fill="#fff" />
<rect x="209.02" y="164.80" width="4.00" height="6.40" fill="#fff" />
<rect x="210.02" y="171.80" width="2.00" height="0.90" fill="#fff" />
<rect x="216.31" y="159.00" width="1.30" height="5.00" fill="#fff" />
<rect x="214.91" y="164.80" width="4.00" height="6.40" fill="#fff" />
<rect x="215.91" y="171.80" width="2.00" height="0.90" fill="#fff" />
<rect x="222.20" y="159.00" width="1.30" height="5.00" fill="#fff" />
<rect x="220.80" y="164.80" width="4.00" height="6.40" fill="#fff" />
<rect x="221.80" y="171.80" width="2.00" height="0.90" fill="#fff" />
<rect x="228.09" y="159.00" width="1.30" height="5.00" fill="#fff" />
<rect x="226.69" y="164.80" width="4.00" height="6.40" fill="#fff" />
<rect x="227.69" y="171.80" width="2.00" height="0.90" fill="#fff" />
<rect x="233.98" y="159.00" width="1.30" height="5.00" fill="#fff" />
<rect x="232.58" y="164.80" width="4.00" height="6.40" fill="#fff" />
<rect x="233.58" y="171.80" width="2.00" height="0.90" fill="#fff" />
<rect x="239.87" y="159.00" width="1.30" height="5.00" fill="#fff" />
<rect x="238.47" y="164.80" width="4.00" height="6.40" fill="#fff" />
<rect x="239.47" y="171.80" width="2.00" height="0.90" fill="#fff" />
<rect x="245.76" y="159.00" width="1.30" height="5.00" fill="#fff" />
<rect x="244.36" y="164.80" width="4.00" height="6.40" fill="#fff" />
<rect x="245.36" y="171.80" width="2.00" height="0.90" fill="#fff" />
<rect x="251.65" y="159.00" width="1.30" height="5.00" fill="#fff" />
<rect x="250.25" y="164.80" width="4.00" height="6.40" fill="#fff" />
<rect x="251.25" y="171.80" width="2.00" height="0.90" fill="#fff" />
<rect x="257.54" y="159.00" width="1.30" height="5.00" fill="#fff" />
<rect x="256.14" y="164.80" width="4.00" height="6.40" fill="#fff" />
<rect x="257.14" y="171.80" width="2.00" height="0.90" fill="#fff" />
<rect x="263.43" y="159.00" width="1.30" height="5.00" fill="#fff" />
<rect x="262.03" y="164.80" width="4.00" height="6.40" fill="#fff" />
<rect x="263.03" y="171.80" width="2.00" height="0.90" fill="#fff" />
<rect x="269.32" y="159.00" width="1.30" height="5.00" fill="#fff" />
<rect x="267.92" y="164.80" width="4.00" height="6.40" fill="#fff" />
<rect x="268.92" y="171.80" width="2.00" height="0.90" fill="#fff" />
<rect x="100.00" y="165.00" width="1.20" height="6.00" fill="#fff" />
<path d="M279.5 162.5 H281.5 V157.5 H288.5 V171.5 H279.5 Z M281.5 163.5 H285.5 V161.5 H288.5" fill="none" stroke="#000" stroke-width="1"/>
<rect x="288.50" y="157.00" width="2.50" height="16.00" fill="#000" />
<rect x="292.00" y="156.50" width="1.00" height="17.50" fill="#000" />
<rect x="292.50" y="156.50" width="8.00" height="6.50" fill="#fff" stroke="#000" stroke-width="1" />
<rect x="292.50" y="163.50" width="8.00" height="6.50" fill="#fff" stroke="#000" stroke-width="1" />
<rect x="292.50" y="170.50" width="8.00" height="4.00" fill="#fff" stroke="#000" stroke-width="1" />
<rect x="49.00" y="71.00" width="7.00" height="31.00" fill="#000" />
<rect x="50.20" y="71.10" width="4.60" height="1.40" fill="#fff" />
<rect x="50.20" y="77.10" width="4.60" height="1.40" fill="#fff" />
<rect x="50.20" y="82.70" width="4.60" height="1.40" fill="#fff" />
<rect x="50.20" y="88.30" width="4.60" height="1.40" fill="#fff" />
<rect x="50.20" y="94.00" width="4.60" height="1.40" fill="#fff" />
<rect x="50.20" y="99.60" width="4.60" height="1.40" fill="#fff" />
<rect x="50.50" y="73.00" width="4.00" height="3.00" fill="#fff" />
<rect x="51.50" y="74.00" width="2.00" height="1.20" fill="#000" />
<rect x="49.00" y="108.00" width="7.00" height="14.00" fill="#000" />
<rect x="50.20" y="108.70" width="4.60" height="1.40" fill="#fff" />
<rect x="50.20" y="114.30" width="4.60" height="1.40" fill="#fff" />
<rect x="50.20" y="120.00" width="4.60" height="1.40" fill="#fff" />
<rect x="49.00" y="125.60" width="7.00" height="14.00" fill="#000" />
<rect x="50.20" y="126.30" width="4.60" height="1.40" fill="#fff" />
<rect x="50.20" y="131.90" width="4.60" height="1.40" fill="#fff" />
<rect x="50.20" y="137.50" width="4.60" height="1.40" fill="#fff" />
<rect x="49.00" y="143.00" width="7.00" height="13.00" fill="#000" />
<rect x="50.20" y="143.70" width="4.60" height="1.40" fill="#fff" />
<rect x="50.20" y="148.60" width="4.60" height="1.40" fill="#fff" />
<rect x="49.00" y="160.30" width="7.00" height="25.20" fill="#000" />
<rect x="50.20" y="160.50" width="4.60" height="1.40" fill="#fff" />
<rect x="50.20" y="165.80" width="4.60" height="1.40" fill="#fff" />
<rect x="50.20" y="171.50" width="4.60" height="1.40" fill="#fff" />
<rect x="50.20" y="177.30" width="4.60" height="1.40" fill="#fff" />
<rect x="50.20" y="183.10" width="4.60" height="1.40" fill="#fff" />
<rect x="50.50" y="162.50" width="4.00" height="3.00" fill="#fff" />
<rect x="51.50" y="163.50" width="2.00" height="1.20" fill="#000" />
<rect x="49.00" y="190.00" width="7.00" height="12.30" fill="#000" />
<rect x="50.20" y="195.40" width="4.60" height="1.40" fill="#fff" />
<rect x="99.00" y="201.00" width="19.00" height="6.00" fill="#000" />
<rect x="104.00" y="202.00" width="1.40" height="4.00" fill="#fff" />
<rect x="110.00" y="202.00" width="1.40" height="4.00" fill="#fff" />
<rect x="113.00" y="202.00" width="3.20" height="4.00" fill="#fff" />
<rect x="114.00" y="203.00" width="1.40" height="2.00" fill="#000" />
<rect x="116.00" y="202.00" width="1.20" height="4.00" fill="#fff" />
<rect x="99.00" y="212.00" width="19.00" height="6.00" fill="#000" />
<rect x="104.00" y="213.00" width="1.40" height="4.00" fill="#fff" />
<rect x="110.00" y="213.00" width="1.40" height="4.00" fill="#fff" />
<rect x="113.00" y="213.00" width="3.20" height="4.00" fill="#fff" />
<rect x="114.00" y="214.00" width="1.40" height="2.00" fill="#000" />
<rect x="116.00" y="213.00" width="1.20" height="4.00" fill="#fff" />
<rect x="99.00" y="224.00" width="19.00" height="6.00" fill="#000" />
<rect x="104.00" y="225.00" width="1.40" height="4.00" fill="#fff" />
<rect x="110.00" y="225.00" width="1.40" height="4.00" fill="#fff" />
<rect x="113.00" y="225.00" width="3.20" height="4.00" fill="#fff" />
<rect x="114.00" y="226.00" width="1.40" height="2.00" fill="#000" />
<rect x="116.00" y="225.00" width="1.20" height="4.00" fill="#fff" />
<rect x="99.00" y="234.00" width="19.00" height="6.00" fill="#000" />
<rect x="104.00" y="235.00" width="1.40" height="4.00" fill="#fff" />
<rect x="110.00" y="235.00" width="1.40" height="4.00" fill="#fff" />
<rect x="113.00" y="235.00" width="3.20" height="4.00" fill="#fff" />
<rect x="114.00" y="236.00" width="1.40" height="2.00" fill="#000" />
<rect x="116.00" y="235.00" width="1.20" height="4.00" fill="#fff" />
<rect x="128.00" y="212.00" width="20.00" height="6.00" fill="#000" />
<rect x="129.00" y="213.00" width="1.20" height="4.00" fill="#fff" />
<rect x="134.00" y="213.00" width="1.70" height="4.00" fill="#fff" />
<rect x="141.00" y="213.00" width="1.20" height="4.00" fill="#fff" />
<rect x="146.00" y="213.00" width="1.00" height="4.00" fill="#fff" />
<rect x="142.00" y="213.00" width="3.40" height="4.00" fill="#fff" />
<rect x="143.00" y="214.00" width="1.40" height="2.00" fill="#000" />
<rect x="128.00" y="224.00" width="20.00" height="6.00" fill="#000" />
<rect x="129.00" y="225.00" width="1.20" height="4.00" fill="#fff" />
<rect x="134.00" y="225.00" width="1.70" height="4.00" fill="#fff" />
<rect x="141.00" y="225.00" width="1.20" height="4.00" fill="#fff" />
<rect x="146.00" y="225.00" width="1.00" height="4.00" fill="#fff" />
<rect x="142.00" y="225.00" width="3.40" height="4.00" fill="#fff" />
<rect x="143.00" y="226.00" width="1.40" height="2.00" fill="#000" />
<rect x="128.00" y="234.00" width="20.00" height="6.00" fill="#000" />
<rect x="129.00" y="235.00" width="1.20" height="4.00" fill="#fff" />
<rect x="134.00" y="235.00" width="1.70" height="4.00" fill="#fff" />
<rect x="141.00" y="235.00" width="1.20" height="4.00" fill="#fff" />
<rect x="146.00" y="235.00" width="1.00" height="4.00" fill="#fff" />
<rect x="142.00" y="235.00" width="3.40" height="4.00" fill="#fff" />
<rect x="143.00" y="236.00" width="1.40" height="2.00" fill="#000" />
<rect x="125.00" y="189.00" width="19.00" height="7.00" fill="#000" />
<rect x="126.00" y="194.20" width="17.00" height="1.00" fill="#fff" />
<rect x="126.00" y="190.00" width="1.00" height="4.50" fill="#fff" />
<rect x="130.50" y="192.00" width="1.00" height="2.50" fill="#fff" />
<rect x="136.00" y="192.00" width="1.00" height="2.50" fill="#fff" />
<rect x="138.50" y="190.20" width="3.50" height="3.40" fill="#fff" />
<rect x="139.60" y="191.20" width="1.40" height="1.40" fill="#000" />
<rect x="142.40" y="190.00" width="0.90" height="4.50" fill="#fff" />
<rect x="172.00" y="189.00" width="19.00" height="7.00" fill="#000" />
<rect x="173.00" y="194.20" width="17.00" height="1.00" fill="#fff" />
<rect x="173.00" y="190.00" width="1.00" height="4.50" fill="#fff" />
<rect x="177.50" y="192.00" width="1.00" height="2.50" fill="#fff" />
<rect x="183.00" y="192.00" width="1.00" height="2.50" fill="#fff" />
<rect x="185.50" y="190.20" width="3.50" height="3.40" fill="#fff" />
<rect x="186.60" y="191.20" width="1.40" height="1.40" fill="#000" />
<rect x="189.40" y="190.00" width="0.90" height="4.50" fill="#fff" />
<rect x="152.00" y="204.00" width="19.00" height="7.00" fill="#000" />
<rect x="158.00" y="205.00" width="1.00" height="5.00" fill="#fff" />
<rect x="164.00" y="205.00" width="1.00" height="5.00" fill="#fff" />
<rect x="169.00" y="205.00" width="1.00" height="5.00" fill="#fff" />
<rect x="165.00" y="205.00" width="3.00" height="5.00" fill="#fff" />
<rect x="166.00" y="206.00" width="1.00" height="3.00" fill="#000" />
<rect x="172.00" y="204.00" width="19.00" height="7.00" fill="#000" />
<rect x="177.00" y="205.00" width="1.00" height="5.00" fill="#fff" />
<rect x="183.00" y="205.00" width="1.00" height="5.00" fill="#fff" />
<rect x="189.00" y="205.00" width="1.00" height="5.00" fill="#fff" />
<rect x="185.00" y="205.00" width="3.00" height="5.00" fill="#fff" />
<rect x="186.00" y="206.00" width="1.00" height="3.00" fill="#000" />
<rect x="225.00" y="200.00" width="14.00" height="7.00" fill="#000" />
<rect x="226.00" y="201.00" width="1.00" height="5.00" fill="#fff" />
<rect x="232.00" y="201.00" width="1.00" height="5.00" fill="#fff" />
<rect x="237.00" y="201.00" width="1.00" height="5.00" fill="#fff" />
<rect x="242.00" y="200.00" width="14.00" height="7.00" fill="#000" />
<rect x="243.00" y="201.00" width="1.00" height="5.00" fill="#fff" />
<rect x="248.00" y="201.00" width="1.00" height="5.00" fill="#fff" />
<rect x="254.00" y="201.00" width="1.00" height="5.00" fill="#fff" />
<rect x="259.00" y="200.00" width="13.00" height="7.00" fill="#000" />
<rect x="265.00" y="201.00" width="1.00" height="5.00" fill="#fff" />
<rect x="270.00" y="201.00" width="1.00" height="5.00" fill="#fff" />
<rect x="150.00" y="501.00" width="19.00" height="7.00" fill="#000" />
<rect x="152.00" y="502.00" width="1.00" height="5.00" fill="#fff" />
<rect x="156.00" y="502.00" width="1.00" height="5.00" fill="#fff" />
<rect x="161.00" y="502.00" width="1.00" height="5.00" fill="#fff" />
<rect x="167.00" y="502.00" width="1.00" height="5.00" fill="#fff" />
<rect x="163.00" y="502.00" width="3.00" height="5.00" fill="#fff" />
<rect x="164.00" y="503.00" width="1.00" height="3.00" fill="#000" />
<rect x="151.00" y="502.00" width="17.00" height="1.00" fill="#fff" />
<rect x="173.00" y="501.00" width="13.00" height="7.00" fill="#000" />
<rect x="174.00" y="502.00" width="1.00" height="5.00" fill="#fff" />
<rect x="178.00" y="502.00" width="1.00" height="5.00" fill="#fff" />
<rect x="184.00" y="502.00" width="1.00" height="5.00" fill="#fff" />
<rect x="174.00" y="502.00" width="11.00" height="1.00" fill="#fff" />
<rect x="191.00" y="501.00" width="20.00" height="7.00" fill="#000" />
<rect x="192.00" y="502.00" width="1.00" height="5.00" fill="#fff" />
<rect x="197.00" y="502.00" width="1.00" height="5.00" fill="#fff" />
<rect x="203.00" y="502.00" width="1.00" height="5.00" fill="#fff" />
<rect x="209.00" y="502.00" width="1.00" height="5.00" fill="#fff" />
<rect x="206.00" y="502.00" width="3.00" height="5.00" fill="#fff" />
<rect x="207.00" y="503.00" width="1.00" height="3.00" fill="#000" />
<rect x="192.00" y="502.00" width="18.00" height="1.00" fill="#fff" />
<rect x="465.00" y="501.00" width="13.00" height="7.00" fill="#000" />
<rect x="471.00" y="502.00" width="1.00" height="5.00" fill="#fff" />
<rect x="481.00" y="501.00" width="14.00" height="7.00" fill="#000" />
<rect x="482.00" y="502.00" width="1.00" height="5.00" fill="#fff" />
<rect x="488.00" y="502.00" width="1.00" height="5.00" fill="#fff" />
<rect x="493.00" y="502.00" width="1.00" height="5.00" fill="#fff" />
<rect x="157.00" y="234.00" width="19.00" height="7.00" fill="#000" />
<rect x="162.00" y="235.00" width="1.00" height="5.00" fill="#fff" />
<rect x="168.00" y="235.00" width="1.00" height="5.00" fill="#fff" />
<rect x="170.00" y="235.00" width="3.00" height="5.00" fill="#fff" />
<rect x="171.00" y="236.00" width="1.00" height="3.00" fill="#000" />
<rect x="754.00" y="454.00" width="19.00" height="7.00" fill="#000" />
<rect x="755.00" y="455.20" width="17.00" height="1.00" fill="#fff" />
<rect x="759.50" y="455.20" width="1.00" height="4.60" fill="#fff" />
<rect x="765.60" y="455.20" width="1.00" height="4.60" fill="#fff" />
<rect x="770.80" y="455.20" width="1.00" height="4.60" fill="#fff" />
<rect x="767.00" y="456.50" width="3.00" height="3.20" fill="#fff" />
<rect x="768.00" y="457.40" width="1.20" height="1.40" fill="#000" />
<polygon points="77,249 159,249 159,324 155,328 77,328" fill="#000"/>
<rect x="80.20" y="251.20" width="3.20" height="2.80" fill="#fff" />
<rect x="86.20" y="251.20" width="3.20" height="2.80" fill="#fff" />
<rect x="92.20" y="251.20" width="3.20" height="2.80" fill="#fff" />
<rect x="98.20" y="251.20" width="3.20" height="2.80" fill="#fff" />
<rect x="104.20" y="251.20" width="3.20" height="2.80" fill="#fff" />
<rect x="110.20" y="251.20" width="3.20" height="2.80" fill="#fff" />
<rect x="116.20" y="251.20" width="3.20" height="2.80" fill="#fff" />
<rect x="122.20" y="251.20" width="3.20" height="2.80" fill="#fff" />
<rect x="128.20" y="251.20" width="3.20" height="2.80" fill="#fff" />
<rect x="134.20" y="251.20" width="3.20" height="2.80" fill="#fff" />
<rect x="140.20" y="251.20" width="3.20" height="2.80" fill="#fff" />
<rect x="146.20" y="251.20" width="3.20" height="2.80" fill="#fff" />
<rect x="152.20" y="251.20" width="3.20" height="2.80" fill="#fff" />
<rect x="80.20" y="257.20" width="3.20" height="2.80" fill="#fff" />
<rect x="86.20" y="257.20" width="3.20" height="2.80" fill="#fff" />
<rect x="92.20" y="257.20" width="3.20" height="2.80" fill="#fff" />
<rect x="98.20" y="257.20" width="3.20" height="2.80" fill="#fff" />
<rect x="104.20" y="257.20" width="3.20" height="2.80" fill="#fff" />
<rect x="110.20" y="257.20" width="3.20" height="2.80" fill="#fff" />
<rect x="116.20" y="257.20" width="3.20" height="2.80" fill="#fff" />
<rect x="122.20" y="257.20" width="3.20" height="2.80" fill="#fff" />
<rect x="128.20" y="257.20" width="3.20" height="2.80" fill="#fff" />
<rect x="134.20" y="257.20" width="3.20" height="2.80" fill="#fff" />
<rect x="140.20" y="257.20" width="3.20" height="2.80" fill="#fff" />
<rect x="146.20" y="257.20" width="3.20" height="2.80" fill="#fff" />
<rect x="152.20" y="257.20" width="3.20" height="2.80" fill="#fff" />
<rect x="80.20" y="263.20" width="3.20" height="2.80" fill="#fff" />
<rect x="86.20" y="263.20" width="3.20" height="2.80" fill="#fff" />
<rect x="92.20" y="263.20" width="3.20" height="2.80" fill="#fff" />
<rect x="98.20" y="263.20" width="3.20" height="2.80" fill="#fff" />
<rect x="104.20" y="263.20" width="3.20" height="2.80" fill="#fff" />
<rect x="110.20" y="263.20" width="3.20" height="2.80" fill="#fff" />
<rect x="116.20" y="263.20" width="3.20" height="2.80" fill="#fff" />
<rect x="122.20" y="263.20" width="3.20" height="2.80" fill="#fff" />
<rect x="128.20" y="263.20" width="3.20" height="2.80" fill="#fff" />
<rect x="134.20" y="263.20" width="3.20" height="2.80" fill="#fff" />
<rect x="140.20" y="263.20" width="3.20" height="2.80" fill="#fff" />
<rect x="146.20" y="263.20" width="3.20" height="2.80" fill="#fff" />
<rect x="152.20" y="263.20" width="3.20" height="2.80" fill="#fff" />
<rect x="80.20" y="269.20" width="3.20" height="2.80" fill="#fff" />
<rect x="86.20" y="269.20" width="3.20" height="2.80" fill="#fff" />
<rect x="92.20" y="269.20" width="3.20" height="2.80" fill="#fff" />
<rect x="140.20" y="269.20" width="3.20" height="2.80" fill="#fff" />
<rect x="146.20" y="269.20" width="3.20" height="2.80" fill="#fff" />
<rect x="152.20" y="269.20" width="3.20" height="2.80" fill="#fff" />
<rect x="80.20" y="275.20" width="3.20" height="2.80" fill="#fff" />
<rect x="86.20" y="275.20" width="3.20" height="2.80" fill="#fff" />
<rect x="92.20" y="275.20" width="3.20" height="2.80" fill="#fff" />
<rect x="140.20" y="275.20" width="3.20" height="2.80" fill="#fff" />
<rect x="146.20" y="275.20" width="3.20" height="2.80" fill="#fff" />
<rect x="152.20" y="275.20" width="3.20" height="2.80" fill="#fff" />
<rect x="80.20" y="281.20" width="3.20" height="2.80" fill="#fff" />
<rect x="86.20" y="281.20" width="3.20" height="2.80" fill="#fff" />
<rect x="92.20" y="281.20" width="3.20" height="2.80" fill="#fff" />
<rect x="140.20" y="281.20" width="3.20" height="2.80" fill="#fff" />
<rect x="146.20" y="281.20" width="3.20" height="2.80" fill="#fff" />
<rect x="152.20" y="281.20" width="3.20" height="2.80" fill="#fff" />
<rect x="80.20" y="287.20" width="3.20" height="2.80" fill="#fff" />
<rect x="86.20" y="287.20" width="3.20" height="2.80" fill="#fff" />
<rect x="92.20" y="287.20" width="3.20" height="2.80" fill="#fff" />
<rect x="140.20" y="287.20" width="3.20" height="2.80" fill="#fff" />
<rect x="146.20" y="287.20" width="3.20" height="2.80" fill="#fff" />
<rect x="152.20" y="287.20" width="3.20" height="2.80" fill="#fff" />
<rect x="80.20" y="293.20" width="3.20" height="2.80" fill="#fff" />
<rect x="86.20" y="293.20" width="3.20" height="2.80" fill="#fff" />
<rect x="92.20" y="293.20" width="3.20" height="2.80" fill="#fff" />
<rect x="140.20" y="293.20" width="3.20" height="2.80" fill="#fff" />
<rect x="146.20" y="293.20" width="3.20" height="2.80" fill="#fff" />
<rect x="152.20" y="293.20" width="3.20" height="2.80" fill="#fff" />
<rect x="80.20" y="299.20" width="3.20" height="2.80" fill="#fff" />
<rect x="86.20" y="299.20" width="3.20" height="2.80" fill="#fff" />
<rect x="92.20" y="299.20" width="3.20" height="2.80" fill="#fff" />
<rect x="140.20" y="299.20" width="3.20" height="2.80" fill="#fff" />
<rect x="146.20" y="299.20" width="3.20" height="2.80" fill="#fff" />
<rect x="152.20" y="299.20" width="3.20" height="2.80" fill="#fff" />
<rect x="80.20" y="305.20" width="3.20" height="2.80" fill="#fff" />
<rect x="86.20" y="305.20" width="3.20" height="2.80" fill="#fff" />
<rect x="92.20" y="305.20" width="3.20" height="2.80" fill="#fff" />
<rect x="140.20" y="305.20" width="3.20" height="2.80" fill="#fff" />
<rect x="146.20" y="305.20" width="3.20" height="2.80" fill="#fff" />
<rect x="152.20" y="305.20" width="3.20" height="2.80" fill="#fff" />
<rect x="80.20" y="311.20" width="3.20" height="2.80" fill="#fff" />
<rect x="86.20" y="311.20" width="3.20" height="2.80" fill="#fff" />
<rect x="92.20" y="311.20" width="3.20" height="2.80" fill="#fff" />
<rect x="98.20" y="311.20" width="3.20" height="2.80" fill="#fff" />
<rect x="104.20" y="311.20" width="3.20" height="2.80" fill="#fff" />
<rect x="110.20" y="311.20" width="3.20" height="2.80" fill="#fff" />
<rect x="116.20" y="311.20" width="3.20" height="2.80" fill="#fff" />
<rect x="122.20" y="311.20" width="3.20" height="2.80" fill="#fff" />
<rect x="128.20" y="311.20" width="3.20" height="2.80" fill="#fff" />
<rect x="134.20" y="311.20" width="3.20" height="2.80" fill="#fff" />
<rect x="140.20" y="311.20" width="3.20" height="2.80" fill="#fff" />
<rect x="146.20" y="311.20" width="3.20" height="2.80" fill="#fff" />
<rect x="152.20" y="311.20" width="3.20" height="2.80" fill="#fff" />
<rect x="80.20" y="317.20" width="3.20" height="2.80" fill="#fff" />
<rect x="86.20" y="317.20" width="3.20" height="2.80" fill="#fff" />
<rect x="92.20" y="317.20" width="3.20" height="2.80" fill="#fff" />
<rect x="98.20" y="317.20" width="3.20" height="2.80" fill="#fff" />
<rect x="104.20" y="317.20" width="3.20" height="2.80" fill="#fff" />
<rect x="110.20" y="317.20" width="3.20" height="2.80" fill="#fff" />
<rect x="116.20" y="317.20" width="3.20" height="2.80" fill="#fff" />
<rect x="122.20" y="317.20" width="3.20" height="2.80" fill="#fff" />
<rect x="128.20" y="317.20" width="3.20" height="2.80" fill="#fff" />
<rect x="134.20" y="317.20" width="3.20" height="2.80" fill="#fff" />
<rect x="140.20" y="317.20" width="3.20" height="2.80" fill="#fff" />
<rect x="146.20" y="317.20" width="3.20" height="2.80" fill="#fff" />
<rect x="152.20" y="317.20" width="3.20" height="2.80" fill="#fff" />
<rect x="80.20" y="323.20" width="3.20" height="2.80" fill="#fff" />
<rect x="86.20" y="323.20" width="3.20" height="2.80" fill="#fff" />
<rect x="92.20" y="323.20" width="3.20" height="2.80" fill="#fff" />
<rect x="98.20" y="323.20" width="3.20" height="2.80" fill="#fff" />
<rect x="104.20" y="323.20" width="3.20" height="2.80" fill="#fff" />
<rect x="110.20" y="323.20" width="3.20" height="2.80" fill="#fff" />
<rect x="116.20" y="323.20" width="3.20" height="2.80" fill="#fff" />
<rect x="122.20" y="323.20" width="3.20" height="2.80" fill="#fff" />
<rect x="128.20" y="323.20" width="3.20" height="2.80" fill="#fff" />
<rect x="134.20" y="323.20" width="3.20" height="2.80" fill="#fff" />
<rect x="140.20" y="323.20" width="3.20" height="2.80" fill="#fff" />
<rect x="146.20" y="323.20" width="3.20" height="2.80" fill="#fff" />
<rect x="152.20" y="323.20" width="3.20" height="2.80" fill="#fff" />
<rect x="100.00" y="270.60" width="36.00" height="35.00" fill="#fff" />
<polygon points="128.00,304.00 131.00,300.00 134.00,303.00 131.00,306.00" fill="#000" />
<rect x="131.00" y="303.00" width="5.00" height="2.70" fill="#000" />
<polygon points="207.50,269.00 266.50,269.00 270.00,272.50 270.00,331.50 266.50,335.00 207.50,335.00 204.00,331.50 204.00,272.50" fill="#000" />
<rect x="221.70" y="269.00" width="1.00" height="3.00" fill="#fff" />
<rect x="223.90" y="269.00" width="1.00" height="3.00" fill="#fff" />
<rect x="226.10" y="269.00" width="1.00" height="3.00" fill="#fff" />
<rect x="238.50" y="269.00" width="1.00" height="3.00" fill="#fff" />
<rect x="240.70" y="269.00" width="1.00" height="3.00" fill="#fff" />
<rect x="242.90" y="269.00" width="1.00" height="3.00" fill="#fff" />
<rect x="255.30" y="269.00" width="1.00" height="3.00" fill="#fff" />
<rect x="257.50" y="269.00" width="1.00" height="3.00" fill="#fff" />
<rect x="259.70" y="269.00" width="1.00" height="3.00" fill="#fff" />
<rect x="210.60" y="332.00" width="1.00" height="3.00" fill="#fff" />
<rect x="212.80" y="332.00" width="1.00" height="3.00" fill="#fff" />
<rect x="215.00" y="332.00" width="1.00" height="3.00" fill="#fff" />
<rect x="227.40" y="332.00" width="1.00" height="3.00" fill="#fff" />
<rect x="229.60" y="332.00" width="1.00" height="3.00" fill="#fff" />
<rect x="231.80" y="332.00" width="1.00" height="3.00" fill="#fff" />
<rect x="244.20" y="332.00" width="1.00" height="3.00" fill="#fff" />
<rect x="246.40" y="332.00" width="1.00" height="3.00" fill="#fff" />
<rect x="248.60" y="332.00" width="1.00" height="3.00" fill="#fff" />
<rect x="261.00" y="332.00" width="1.00" height="3.00" fill="#fff" />
<rect x="263.20" y="332.00" width="1.00" height="3.00" fill="#fff" />
<rect x="265.40" y="332.00" width="1.00" height="3.00" fill="#fff" />
<rect x="204.00" y="280.50" width="3.00" height="1.00" fill="#fff" />
<rect x="204.00" y="282.70" width="3.00" height="1.00" fill="#fff" />
<rect x="204.00" y="284.90" width="3.00" height="1.00" fill="#fff" />
<rect x="204.00" y="297.30" width="3.00" height="1.00" fill="#fff" />
<rect x="204.00" y="299.50" width="3.00" height="1.00" fill="#fff" />
<rect x="204.00" y="301.70" width="3.00" height="1.00" fill="#fff" />
<rect x="204.00" y="314.10" width="3.00" height="1.00" fill="#fff" />
<rect x="204.00" y="316.30" width="3.00" height="1.00" fill="#fff" />
<rect x="204.00" y="318.50" width="3.00" height="1.00" fill="#fff" />
<rect x="267.00" y="286.40" width="3.00" height="1.00" fill="#fff" />
<rect x="267.00" y="288.60" width="3.00" height="1.00" fill="#fff" />
<rect x="267.00" y="290.80" width="3.00" height="1.00" fill="#fff" />
<rect x="267.00" y="303.20" width="3.00" height="1.00" fill="#fff" />
<rect x="267.00" y="305.40" width="3.00" height="1.00" fill="#fff" />
<rect x="267.00" y="307.60" width="3.00" height="1.00" fill="#fff" />
<rect x="267.00" y="320.00" width="3.00" height="1.00" fill="#fff" />
<rect x="267.00" y="322.20" width="3.00" height="1.00" fill="#fff" />
<rect x="267.00" y="324.40" width="3.00" height="1.00" fill="#fff" />
<polygon points="337.50,173.00 395.50,173.00 399.00,176.50 399.00,235.50 395.50,239.00 337.50,239.00 334.00,235.50 334.00,176.50" fill="#000" />
<rect x="342.50" y="173.00" width="1.00" height="3.00" fill="#fff" />
<rect x="344.70" y="173.00" width="1.00" height="3.00" fill="#fff" />
<rect x="346.90" y="173.00" width="1.00" height="3.00" fill="#fff" />
<rect x="359.30" y="173.00" width="1.00" height="3.00" fill="#fff" />
<rect x="361.50" y="173.00" width="1.00" height="3.00" fill="#fff" />
<rect x="363.70" y="173.00" width="1.00" height="3.00" fill="#fff" />
<rect x="376.10" y="173.00" width="1.00" height="3.00" fill="#fff" />
<rect x="378.30" y="173.00" width="1.00" height="3.00" fill="#fff" />
<rect x="380.50" y="173.00" width="1.00" height="3.00" fill="#fff" />
<rect x="392.90" y="173.00" width="1.00" height="3.00" fill="#fff" />
<rect x="395.10" y="173.00" width="1.00" height="3.00" fill="#fff" />
<rect x="397.30" y="173.00" width="1.00" height="3.00" fill="#fff" />
<rect x="342.00" y="236.00" width="1.00" height="3.00" fill="#fff" />
<rect x="344.20" y="236.00" width="1.00" height="3.00" fill="#fff" />
<rect x="346.40" y="236.00" width="1.00" height="3.00" fill="#fff" />
<rect x="358.80" y="236.00" width="1.00" height="3.00" fill="#fff" />
<rect x="361.00" y="236.00" width="1.00" height="3.00" fill="#fff" />
<rect x="363.20" y="236.00" width="1.00" height="3.00" fill="#fff" />
<rect x="375.60" y="236.00" width="1.00" height="3.00" fill="#fff" />
<rect x="377.80" y="236.00" width="1.00" height="3.00" fill="#fff" />
<rect x="380.00" y="236.00" width="1.00" height="3.00" fill="#fff" />
<rect x="392.40" y="236.00" width="1.00" height="3.00" fill="#fff" />
<rect x="394.60" y="236.00" width="1.00" height="3.00" fill="#fff" />
<rect x="396.80" y="236.00" width="1.00" height="3.00" fill="#fff" />
<rect x="334.00" y="179.00" width="3.00" height="1.00" fill="#fff" />
<rect x="334.00" y="181.20" width="3.00" height="1.00" fill="#fff" />
<rect x="334.00" y="183.40" width="3.00" height="1.00" fill="#fff" />
<rect x="334.00" y="195.80" width="3.00" height="1.00" fill="#fff" />
<rect x="334.00" y="198.00" width="3.00" height="1.00" fill="#fff" />
<rect x="334.00" y="200.20" width="3.00" height="1.00" fill="#fff" />
<rect x="334.00" y="212.60" width="3.00" height="1.00" fill="#fff" />
<rect x="334.00" y="214.80" width="3.00" height="1.00" fill="#fff" />
<rect x="334.00" y="217.00" width="3.00" height="1.00" fill="#fff" />
<rect x="334.00" y="229.40" width="3.00" height="1.00" fill="#fff" />
<rect x="334.00" y="231.60" width="3.00" height="1.00" fill="#fff" />
<rect x="334.00" y="233.80" width="3.00" height="1.00" fill="#fff" />
<rect x="396.00" y="177.50" width="3.00" height="1.00" fill="#fff" />
<rect x="396.00" y="179.70" width="3.00" height="1.00" fill="#fff" />
<rect x="396.00" y="181.90" width="3.00" height="1.00" fill="#fff" />
<rect x="396.00" y="194.30" width="3.00" height="1.00" fill="#fff" />
<rect x="396.00" y="196.50" width="3.00" height="1.00" fill="#fff" />
<rect x="396.00" y="198.70" width="3.00" height="1.00" fill="#fff" />
<rect x="396.00" y="211.10" width="3.00" height="1.00" fill="#fff" />
<rect x="396.00" y="213.30" width="3.00" height="1.00" fill="#fff" />
<rect x="396.00" y="215.50" width="3.00" height="1.00" fill="#fff" />
<rect x="396.00" y="227.90" width="3.00" height="1.00" fill="#fff" />
<rect x="396.00" y="230.10" width="3.00" height="1.00" fill="#fff" />
<rect x="396.00" y="232.30" width="3.00" height="1.00" fill="#fff" />
<polygon points="604.50,75.00 662.50,75.00 666.00,78.50 666.00,136.50 662.50,140.00 604.50,140.00 601.00,136.50 601.00,78.50" fill="#000" />
<rect x="608.50" y="75.00" width="1.00" height="3.00" fill="#fff" />
<rect x="610.70" y="75.00" width="1.00" height="3.00" fill="#fff" />
<rect x="612.90" y="75.00" width="1.00" height="3.00" fill="#fff" />
<rect x="625.30" y="75.00" width="1.00" height="3.00" fill="#fff" />
<rect x="627.50" y="75.00" width="1.00" height="3.00" fill="#fff" />
<rect x="629.70" y="75.00" width="1.00" height="3.00" fill="#fff" />
<rect x="642.10" y="75.00" width="1.00" height="3.00" fill="#fff" />
<rect x="644.30" y="75.00" width="1.00" height="3.00" fill="#fff" />
<rect x="646.50" y="75.00" width="1.00" height="3.00" fill="#fff" />
<rect x="658.90" y="75.00" width="1.00" height="3.00" fill="#fff" />
<rect x="661.10" y="75.00" width="1.00" height="3.00" fill="#fff" />
<rect x="663.30" y="75.00" width="1.00" height="3.00" fill="#fff" />
<rect x="613.00" y="137.00" width="1.00" height="3.00" fill="#fff" />
<rect x="615.20" y="137.00" width="1.00" height="3.00" fill="#fff" />
<rect x="617.40" y="137.00" width="1.00" height="3.00" fill="#fff" />
<rect x="629.80" y="137.00" width="1.00" height="3.00" fill="#fff" />
<rect x="632.00" y="137.00" width="1.00" height="3.00" fill="#fff" />
<rect x="634.20" y="137.00" width="1.00" height="3.00" fill="#fff" />
<rect x="646.60" y="137.00" width="1.00" height="3.00" fill="#fff" />
<rect x="648.80" y="137.00" width="1.00" height="3.00" fill="#fff" />
<rect x="651.00" y="137.00" width="1.00" height="3.00" fill="#fff" />
<rect x="601.00" y="84.00" width="3.00" height="1.00" fill="#fff" />
<rect x="601.00" y="86.20" width="3.00" height="1.00" fill="#fff" />
<rect x="601.00" y="88.40" width="3.00" height="1.00" fill="#fff" />
<rect x="601.00" y="100.80" width="3.00" height="1.00" fill="#fff" />
<rect x="601.00" y="103.00" width="3.00" height="1.00" fill="#fff" />
<rect x="601.00" y="105.20" width="3.00" height="1.00" fill="#fff" />
<rect x="601.00" y="117.60" width="3.00" height="1.00" fill="#fff" />
<rect x="601.00" y="119.80" width="3.00" height="1.00" fill="#fff" />
<rect x="601.00" y="122.00" width="3.00" height="1.00" fill="#fff" />
<rect x="601.00" y="134.40" width="3.00" height="1.00" fill="#fff" />
<rect x="601.00" y="136.60" width="3.00" height="1.00" fill="#fff" />
<rect x="601.00" y="138.80" width="3.00" height="1.00" fill="#fff" />
<rect x="663.00" y="81.00" width="3.00" height="1.00" fill="#fff" />
<rect x="663.00" y="83.20" width="3.00" height="1.00" fill="#fff" />
<rect x="663.00" y="85.40" width="3.00" height="1.00" fill="#fff" />
<rect x="663.00" y="97.80" width="3.00" height="1.00" fill="#fff" />
<rect x="663.00" y="100.00" width="3.00" height="1.00" fill="#fff" />
<rect x="663.00" y="102.20" width="3.00" height="1.00" fill="#fff" />
<rect x="663.00" y="114.60" width="3.00" height="1.00" fill="#fff" />
<rect x="663.00" y="116.80" width="3.00" height="1.00" fill="#fff" />
<rect x="663.00" y="119.00" width="3.00" height="1.00" fill="#fff" />
<rect x="663.00" y="131.40" width="3.00" height="1.00" fill="#fff" />
<rect x="663.00" y="133.60" width="3.00" height="1.00" fill="#fff" />
<rect x="663.00" y="135.80" width="3.00" height="1.00" fill="#fff" />
<polygon points="653.50,356.00 711.50,356.00 715.00,359.50 715.00,395.50 711.50,399.00 653.50,399.00 650.00,395.50 650.00,359.50" fill="#000" />
<rect x="656.50" y="356.00" width="1.00" height="3.00" fill="#fff" />
<rect x="658.70" y="356.00" width="1.00" height="3.00" fill="#fff" />
<rect x="660.90" y="356.00" width="1.00" height="3.00" fill="#fff" />
<rect x="673.30" y="356.00" width="1.00" height="3.00" fill="#fff" />
<rect x="675.50" y="356.00" width="1.00" height="3.00" fill="#fff" />
<rect x="677.70" y="356.00" width="1.00" height="3.00" fill="#fff" />
<rect x="690.10" y="356.00" width="1.00" height="3.00" fill="#fff" />
<rect x="692.30" y="356.00" width="1.00" height="3.00" fill="#fff" />
<rect x="694.50" y="356.00" width="1.00" height="3.00" fill="#fff" />
<rect x="706.90" y="356.00" width="1.00" height="3.00" fill="#fff" />
<rect x="709.10" y="356.00" width="1.00" height="3.00" fill="#fff" />
<rect x="711.30" y="356.00" width="1.00" height="3.00" fill="#fff" />
<rect x="662.00" y="396.00" width="1.00" height="3.00" fill="#fff" />
<rect x="664.20" y="396.00" width="1.00" height="3.00" fill="#fff" />
<rect x="666.40" y="396.00" width="1.00" height="3.00" fill="#fff" />
<rect x="678.80" y="396.00" width="1.00" height="3.00" fill="#fff" />
<rect x="681.00" y="396.00" width="1.00" height="3.00" fill="#fff" />
<rect x="683.20" y="396.00" width="1.00" height="3.00" fill="#fff" />
<rect x="695.60" y="396.00" width="1.00" height="3.00" fill="#fff" />
<rect x="697.80" y="396.00" width="1.00" height="3.00" fill="#fff" />
<rect x="700.00" y="396.00" width="1.00" height="3.00" fill="#fff" />
<rect x="650.00" y="360.00" width="3.00" height="1.00" fill="#fff" />
<rect x="650.00" y="362.20" width="3.00" height="1.00" fill="#fff" />
<rect x="650.00" y="364.40" width="3.00" height="1.00" fill="#fff" />
<rect x="650.00" y="376.80" width="3.00" height="1.00" fill="#fff" />
<rect x="650.00" y="379.00" width="3.00" height="1.00" fill="#fff" />
<rect x="650.00" y="381.20" width="3.00" height="1.00" fill="#fff" />
<rect x="650.00" y="393.60" width="3.00" height="1.00" fill="#fff" />
<rect x="650.00" y="395.80" width="3.00" height="1.00" fill="#fff" />
<rect x="650.00" y="398.00" width="3.00" height="1.00" fill="#fff" />
<rect x="712.00" y="359.00" width="3.00" height="1.00" fill="#fff" />
<rect x="712.00" y="361.20" width="3.00" height="1.00" fill="#fff" />
<rect x="712.00" y="363.40" width="3.00" height="1.00" fill="#fff" />
<rect x="712.00" y="375.80" width="3.00" height="1.00" fill="#fff" />
<rect x="712.00" y="378.00" width="3.00" height="1.00" fill="#fff" />
<rect x="712.00" y="380.20" width="3.00" height="1.00" fill="#fff" />
<rect x="712.00" y="392.60" width="3.00" height="1.00" fill="#fff" />
<rect x="712.00" y="394.80" width="3.00" height="1.00" fill="#fff" />
<rect x="712.00" y="397.00" width="3.00" height="1.00" fill="#fff" />
<polygon points="60.00,423.70 66.00,417.70 135.20,417.70 135.20,491.90 60.00,491.90" fill="#000" />
<circle cx="67.6" cy="425.3" r="3.4" fill="#fff"/>
<polygon points="194.00,396.40 203.60,386.80 301.00,386.80 301.00,493.40 194.00,493.40" fill="#000" />
<circle cx="205" cy="397.8" r="3.6" fill="#fff"/>
<rect x="308.00" y="372.80" width="84.00" height="25.00" fill="#000" />
<rect x="311.00" y="375.20" width="3.20" height="4.80" fill="#fff" />
<rect x="311.00" y="390.80" width="3.20" height="4.80" fill="#fff" />
<rect x="316.79" y="375.20" width="3.20" height="4.80" fill="#fff" />
<rect x="316.79" y="390.80" width="3.20" height="4.80" fill="#fff" />
<rect x="322.58" y="375.20" width="3.20" height="4.80" fill="#fff" />
<rect x="322.58" y="390.80" width="3.20" height="4.80" fill="#fff" />
<rect x="328.37" y="375.20" width="3.20" height="4.80" fill="#fff" />
<rect x="328.37" y="390.80" width="3.20" height="4.80" fill="#fff" />
<rect x="334.16" y="375.20" width="3.20" height="4.80" fill="#fff" />
<rect x="334.16" y="390.80" width="3.20" height="4.80" fill="#fff" />
<rect x="339.95" y="375.20" width="3.20" height="4.80" fill="#fff" />
<rect x="339.95" y="390.80" width="3.20" height="4.80" fill="#fff" />
<rect x="345.74" y="375.20" width="3.20" height="4.80" fill="#fff" />
<rect x="345.74" y="390.80" width="3.20" height="4.80" fill="#fff" />
<rect x="351.53" y="375.20" width="3.20" height="4.80" fill="#fff" />
<rect x="351.53" y="390.80" width="3.20" height="4.80" fill="#fff" />
<rect x="357.32" y="375.20" width="3.20" height="4.80" fill="#fff" />
<rect x="357.32" y="390.80" width="3.20" height="4.80" fill="#fff" />
<rect x="363.11" y="375.20" width="3.20" height="4.80" fill="#fff" />
<rect x="363.11" y="390.80" width="3.20" height="4.80" fill="#fff" />
<rect x="368.89" y="375.20" width="3.20" height="4.80" fill="#fff" />
<rect x="368.89" y="390.80" width="3.20" height="4.80" fill="#fff" />
<rect x="374.68" y="375.20" width="3.20" height="4.80" fill="#fff" />
<rect x="374.68" y="390.80" width="3.20" height="4.80" fill="#fff" />
<rect x="380.47" y="375.20" width="3.20" height="4.80" fill="#fff" />
<rect x="380.47" y="390.80" width="3.20" height="4.80" fill="#fff" />
<rect x="386.26" y="375.20" width="3.20" height="4.80" fill="#fff" />
<rect x="386.26" y="390.80" width="3.20" height="4.80" fill="#fff" />
<rect x="315.60" y="383.00" width="34.20" height="4.80" fill="#fff" />
<rect x="354.00" y="383.00" width="33.20" height="4.80" fill="#fff" />
<rect x="308.00" y="383.00" width="2.20" height="4.80" fill="#fff" />
<rect x="308.00" y="398.80" width="84.00" height="25.00" fill="#000" />
<rect x="311.00" y="401.20" width="3.20" height="4.80" fill="#fff" />
<rect x="311.00" y="416.80" width="3.20" height="4.80" fill="#fff" />
<rect x="316.79" y="401.20" width="3.20" height="4.80" fill="#fff" />
<rect x="316.79" y="416.80" width="3.20" height="4.80" fill="#fff" />
<rect x="322.58" y="401.20" width="3.20" height="4.80" fill="#fff" />
<rect x="322.58" y="416.80" width="3.20" height="4.80" fill="#fff" />
<rect x="328.37" y="401.20" width="3.20" height="4.80" fill="#fff" />
<rect x="328.37" y="416.80" width="3.20" height="4.80" fill="#fff" />
<rect x="334.16" y="401.20" width="3.20" height="4.80" fill="#fff" />
<rect x="334.16" y="416.80" width="3.20" height="4.80" fill="#fff" />
<rect x="339.95" y="401.20" width="3.20" height="4.80" fill="#fff" />
<rect x="339.95" y="416.80" width="3.20" height="4.80" fill="#fff" />
<rect x="345.74" y="401.20" width="3.20" height="4.80" fill="#fff" />
<rect x="345.74" y="416.80" width="3.20" height="4.80" fill="#fff" />
<rect x="351.53" y="401.20" width="3.20" height="4.80" fill="#fff" />
<rect x="351.53" y="416.80" width="3.20" height="4.80" fill="#fff" />
<rect x="357.32" y="401.20" width="3.20" height="4.80" fill="#fff" />
<rect x="357.32" y="416.80" width="3.20" height="4.80" fill="#fff" />
<rect x="363.11" y="401.20" width="3.20" height="4.80" fill="#fff" />
<rect x="363.11" y="416.80" width="3.20" height="4.80" fill="#fff" />
<rect x="368.89" y="401.20" width="3.20" height="4.80" fill="#fff" />
<rect x="368.89" y="416.80" width="3.20" height="4.80" fill="#fff" />
<rect x="374.68" y="401.20" width="3.20" height="4.80" fill="#fff" />
<rect x="374.68" y="416.80" width="3.20" height="4.80" fill="#fff" />
<rect x="380.47" y="401.20" width="3.20" height="4.80" fill="#fff" />
<rect x="380.47" y="416.80" width="3.20" height="4.80" fill="#fff" />
<rect x="386.26" y="401.20" width="3.20" height="4.80" fill="#fff" />
<rect x="386.26" y="416.80" width="3.20" height="4.80" fill="#fff" />
<rect x="315.60" y="409.00" width="34.20" height="4.80" fill="#fff" />
<rect x="354.00" y="409.00" width="33.20" height="4.80" fill="#fff" />
<rect x="308.00" y="409.00" width="2.20" height="4.80" fill="#fff" />
<rect x="308.00" y="424.80" width="84.00" height="25.00" fill="#000" />
<rect x="311.00" y="427.20" width="3.20" height="4.80" fill="#fff" />
<rect x="311.00" y="442.80" width="3.20" height="4.80" fill="#fff" />
<rect x="316.79" y="427.20" width="3.20" height="4.80" fill="#fff" />
<rect x="316.79" y="442.80" width="3.20" height="4.80" fill="#fff" />
<rect x="322.58" y="427.20" width="3.20" height="4.80" fill="#fff" />
<rect x="322.58" y="442.80" width="3.20" height="4.80" fill="#fff" />
<rect x="328.37" y="427.20" width="3.20" height="4.80" fill="#fff" />
<rect x="328.37" y="442.80" width="3.20" height="4.80" fill="#fff" />
<rect x="334.16" y="427.20" width="3.20" height="4.80" fill="#fff" />
<rect x="334.16" y="442.80" width="3.20" height="4.80" fill="#fff" />
<rect x="339.95" y="427.20" width="3.20" height="4.80" fill="#fff" />
<rect x="339.95" y="442.80" width="3.20" height="4.80" fill="#fff" />
<rect x="345.74" y="427.20" width="3.20" height="4.80" fill="#fff" />
<rect x="345.74" y="442.80" width="3.20" height="4.80" fill="#fff" />
<rect x="351.53" y="427.20" width="3.20" height="4.80" fill="#fff" />
<rect x="351.53" y="442.80" width="3.20" height="4.80" fill="#fff" />
<rect x="357.32" y="427.20" width="3.20" height="4.80" fill="#fff" />
<rect x="357.32" y="442.80" width="3.20" height="4.80" fill="#fff" />
<rect x="363.11" y="427.20" width="3.20" height="4.80" fill="#fff" />
<rect x="363.11" y="442.80" width="3.20" height="4.80" fill="#fff" />
<rect x="368.89" y="427.20" width="3.20" height="4.80" fill="#fff" />
<rect x="368.89" y="442.80" width="3.20" height="4.80" fill="#fff" />
<rect x="374.68" y="427.20" width="3.20" height="4.80" fill="#fff" />
<rect x="374.68" y="442.80" width="3.20" height="4.80" fill="#fff" />
<rect x="380.47" y="427.20" width="3.20" height="4.80" fill="#fff" />
<rect x="380.47" y="442.80" width="3.20" height="4.80" fill="#fff" />
<rect x="386.26" y="427.20" width="3.20" height="4.80" fill="#fff" />
<rect x="386.26" y="442.80" width="3.20" height="4.80" fill="#fff" />
<rect x="315.60" y="435.00" width="34.20" height="4.80" fill="#fff" />
<rect x="354.00" y="435.00" width="33.20" height="4.80" fill="#fff" />
<rect x="308.00" y="435.00" width="2.20" height="4.80" fill="#fff" />
<rect x="308.00" y="450.80" width="84.00" height="25.00" fill="#000" />
<rect x="311.00" y="453.20" width="3.20" height="4.80" fill="#fff" />
<rect x="311.00" y="468.80" width="3.20" height="4.80" fill="#fff" />
<rect x="316.79" y="453.20" width="3.20" height="4.80" fill="#fff" />
<rect x="316.79" y="468.80" width="3.20" height="4.80" fill="#fff" />
<rect x="322.58" y="453.20" width="3.20" height="4.80" fill="#fff" />
<rect x="322.58" y="468.80" width="3.20" height="4.80" fill="#fff" />
<rect x="328.37" y="453.20" width="3.20" height="4.80" fill="#fff" />
<rect x="328.37" y="468.80" width="3.20" height="4.80" fill="#fff" />
<rect x="334.16" y="453.20" width="3.20" height="4.80" fill="#fff" />
<rect x="334.16" y="468.80" width="3.20" height="4.80" fill="#fff" />
<rect x="339.95" y="453.20" width="3.20" height="4.80" fill="#fff" />
<rect x="339.95" y="468.80" width="3.20" height="4.80" fill="#fff" />
<rect x="345.74" y="453.20" width="3.20" height="4.80" fill="#fff" />
<rect x="345.74" y="468.80" width="3.20" height="4.80" fill="#fff" />
<rect x="351.53" y="453.20" width="3.20" height="4.80" fill="#fff" />
<rect x="351.53" y="468.80" width="3.20" height="4.80" fill="#fff" />
<rect x="357.32" y="453.20" width="3.20" height="4.80" fill="#fff" />
<rect x="357.32" y="468.80" width="3.20" height="4.80" fill="#fff" />
<rect x="363.11" y="453.20" width="3.20" height="4.80" fill="#fff" />
<rect x="363.11" y="468.80" width="3.20" height="4.80" fill="#fff" />
<rect x="368.89" y="453.20" width="3.20" height="4.80" fill="#fff" />
<rect x="368.89" y="468.80" width="3.20" height="4.80" fill="#fff" />
<rect x="374.68" y="453.20" width="3.20" height="4.80" fill="#fff" />
<rect x="374.68" y="468.80" width="3.20" height="4.80" fill="#fff" />
<rect x="380.47" y="453.20" width="3.20" height="4.80" fill="#fff" />
<rect x="380.47" y="468.80" width="3.20" height="4.80" fill="#fff" />
<rect x="386.26" y="453.20" width="3.20" height="4.80" fill="#fff" />
<rect x="386.26" y="468.80" width="3.20" height="4.80" fill="#fff" />
<rect x="315.60" y="461.00" width="34.20" height="4.80" fill="#fff" />
<rect x="354.00" y="461.00" width="33.20" height="4.80" fill="#fff" />
<rect x="308.00" y="461.00" width="2.20" height="4.80" fill="#fff" />
<rect x="308.00" y="476.80" width="84.00" height="25.00" fill="#000" />
<rect x="311.00" y="479.20" width="3.20" height="4.80" fill="#fff" />
<rect x="311.00" y="494.80" width="3.20" height="4.80" fill="#fff" />
<rect x="316.79" y="479.20" width="3.20" height="4.80" fill="#fff" />
<rect x="316.79" y="494.80" width="3.20" height="4.80" fill="#fff" />
<rect x="322.58" y="479.20" width="3.20" height="4.80" fill="#fff" />
<rect x="322.58" y="494.80" width="3.20" height="4.80" fill="#fff" />
<rect x="328.37" y="479.20" width="3.20" height="4.80" fill="#fff" />
<rect x="328.37" y="494.80" width="3.20" height="4.80" fill="#fff" />
<rect x="334.16" y="479.20" width="3.20" height="4.80" fill="#fff" />
<rect x="334.16" y="494.80" width="3.20" height="4.80" fill="#fff" />
<rect x="339.95" y="479.20" width="3.20" height="4.80" fill="#fff" />
<rect x="339.95" y="494.80" width="3.20" height="4.80" fill="#fff" />
<rect x="345.74" y="479.20" width="3.20" height="4.80" fill="#fff" />
<rect x="345.74" y="494.80" width="3.20" height="4.80" fill="#fff" />
<rect x="351.53" y="479.20" width="3.20" height="4.80" fill="#fff" />
<rect x="351.53" y="494.80" width="3.20" height="4.80" fill="#fff" />
<rect x="357.32" y="479.20" width="3.20" height="4.80" fill="#fff" />
<rect x="357.32" y="494.80" width="3.20" height="4.80" fill="#fff" />
<rect x="363.11" y="479.20" width="3.20" height="4.80" fill="#fff" />
<rect x="363.11" y="494.80" width="3.20" height="4.80" fill="#fff" />
<rect x="368.89" y="479.20" width="3.20" height="4.80" fill="#fff" />
<rect x="368.89" y="494.80" width="3.20" height="4.80" fill="#fff" />
<rect x="374.68" y="479.20" width="3.20" height="4.80" fill="#fff" />
<rect x="374.68" y="494.80" width="3.20" height="4.80" fill="#fff" />
<rect x="380.47" y="479.20" width="3.20" height="4.80" fill="#fff" />
<rect x="380.47" y="494.80" width="3.20" height="4.80" fill="#fff" />
<rect x="386.26" y="479.20" width="3.20" height="4.80" fill="#fff" />
<rect x="386.26" y="494.80" width="3.20" height="4.80" fill="#fff" />
<rect x="315.60" y="487.00" width="34.20" height="4.80" fill="#fff" />
<rect x="354.00" y="487.00" width="33.20" height="4.80" fill="#fff" />
<rect x="308.00" y="487.00" width="2.20" height="4.80" fill="#fff" />
<rect x="396.00" y="388.40" width="85.00" height="25.00" fill="#000" />
<rect x="399.00" y="390.80" width="3.20" height="4.80" fill="#fff" />
<rect x="399.00" y="406.40" width="3.20" height="4.80" fill="#fff" />
<rect x="404.86" y="390.80" width="3.20" height="4.80" fill="#fff" />
<rect x="404.86" y="406.40" width="3.20" height="4.80" fill="#fff" />
<rect x="410.73" y="390.80" width="3.20" height="4.80" fill="#fff" />
<rect x="410.73" y="406.40" width="3.20" height="4.80" fill="#fff" />
<rect x="416.59" y="390.80" width="3.20" height="4.80" fill="#fff" />
<rect x="416.59" y="406.40" width="3.20" height="4.80" fill="#fff" />
<rect x="422.46" y="390.80" width="3.20" height="4.80" fill="#fff" />
<rect x="422.46" y="406.40" width="3.20" height="4.80" fill="#fff" />
<rect x="428.32" y="390.80" width="3.20" height="4.80" fill="#fff" />
<rect x="428.32" y="406.40" width="3.20" height="4.80" fill="#fff" />
<rect x="434.19" y="390.80" width="3.20" height="4.80" fill="#fff" />
<rect x="434.19" y="406.40" width="3.20" height="4.80" fill="#fff" />
<rect x="440.05" y="390.80" width="3.20" height="4.80" fill="#fff" />
<rect x="440.05" y="406.40" width="3.20" height="4.80" fill="#fff" />
<rect x="445.92" y="390.80" width="3.20" height="4.80" fill="#fff" />
<rect x="445.92" y="406.40" width="3.20" height="4.80" fill="#fff" />
<rect x="451.78" y="390.80" width="3.20" height="4.80" fill="#fff" />
<rect x="451.78" y="406.40" width="3.20" height="4.80" fill="#fff" />
<rect x="457.65" y="390.80" width="3.20" height="4.80" fill="#fff" />
<rect x="457.65" y="406.40" width="3.20" height="4.80" fill="#fff" />
<rect x="463.51" y="390.80" width="3.20" height="4.80" fill="#fff" />
<rect x="463.51" y="406.40" width="3.20" height="4.80" fill="#fff" />
<rect x="469.38" y="390.80" width="3.20" height="4.80" fill="#fff" />
<rect x="469.38" y="406.40" width="3.20" height="4.80" fill="#fff" />
<rect x="475.24" y="390.80" width="3.20" height="4.80" fill="#fff" />
<rect x="475.24" y="406.40" width="3.20" height="4.80" fill="#fff" />
<rect x="403.60" y="398.60" width="34.20" height="4.80" fill="#fff" />
<rect x="442.00" y="398.60" width="34.20" height="4.80" fill="#fff" />
<rect x="396.00" y="398.60" width="2.20" height="4.80" fill="#fff" />
<rect x="396.00" y="414.40" width="85.00" height="25.00" fill="#000" />
<rect x="399.00" y="416.80" width="3.20" height="4.80" fill="#fff" />
<rect x="399.00" y="432.40" width="3.20" height="4.80" fill="#fff" />
<rect x="404.86" y="416.80" width="3.20" height="4.80" fill="#fff" />
<rect x="404.86" y="432.40" width="3.20" height="4.80" fill="#fff" />
<rect x="410.73" y="416.80" width="3.20" height="4.80" fill="#fff" />
<rect x="410.73" y="432.40" width="3.20" height="4.80" fill="#fff" />
<rect x="416.59" y="416.80" width="3.20" height="4.80" fill="#fff" />
<rect x="416.59" y="432.40" width="3.20" height="4.80" fill="#fff" />
<rect x="422.46" y="416.80" width="3.20" height="4.80" fill="#fff" />
<rect x="422.46" y="432.40" width="3.20" height="4.80" fill="#fff" />
<rect x="428.32" y="416.80" width="3.20" height="4.80" fill="#fff" />
<rect x="428.32" y="432.40" width="3.20" height="4.80" fill="#fff" />
<rect x="434.19" y="416.80" width="3.20" height="4.80" fill="#fff" />
<rect x="434.19" y="432.40" width="3.20" height="4.80" fill="#fff" />
<rect x="440.05" y="416.80" width="3.20" height="4.80" fill="#fff" />
<rect x="440.05" y="432.40" width="3.20" height="4.80" fill="#fff" />
<rect x="445.92" y="416.80" width="3.20" height="4.80" fill="#fff" />
<rect x="445.92" y="432.40" width="3.20" height="4.80" fill="#fff" />
<rect x="451.78" y="416.80" width="3.20" height="4.80" fill="#fff" />
<rect x="451.78" y="432.40" width="3.20" height="4.80" fill="#fff" />
<rect x="457.65" y="416.80" width="3.20" height="4.80" fill="#fff" />
<rect x="457.65" y="432.40" width="3.20" height="4.80" fill="#fff" />
<rect x="463.51" y="416.80" width="3.20" height="4.80" fill="#fff" />
<rect x="463.51" y="432.40" width="3.20" height="4.80" fill="#fff" />
<rect x="469.38" y="416.80" width="3.20" height="4.80" fill="#fff" />
<rect x="469.38" y="432.40" width="3.20" height="4.80" fill="#fff" />
<rect x="475.24" y="416.80" width="3.20" height="4.80" fill="#fff" />
<rect x="475.24" y="432.40" width="3.20" height="4.80" fill="#fff" />
<rect x="403.60" y="424.60" width="34.20" height="4.80" fill="#fff" />
<rect x="442.00" y="424.60" width="34.20" height="4.80" fill="#fff" />
<rect x="396.00" y="424.60" width="2.20" height="4.80" fill="#fff" />
<rect x="396.00" y="440.40" width="85.00" height="25.00" fill="#000" />
<rect x="399.00" y="442.80" width="3.20" height="4.80" fill="#fff" />
<rect x="399.00" y="458.40" width="3.20" height="4.80" fill="#fff" />
<rect x="404.86" y="442.80" width="3.20" height="4.80" fill="#fff" />
<rect x="404.86" y="458.40" width="3.20" height="4.80" fill="#fff" />
<rect x="410.73" y="442.80" width="3.20" height="4.80" fill="#fff" />
<rect x="410.73" y="458.40" width="3.20" height="4.80" fill="#fff" />
<rect x="416.59" y="442.80" width="3.20" height="4.80" fill="#fff" />
<rect x="416.59" y="458.40" width="3.20" height="4.80" fill="#fff" />
<rect x="422.46" y="442.80" width="3.20" height="4.80" fill="#fff" />
<rect x="422.46" y="458.40" width="3.20" height="4.80" fill="#fff" />
<rect x="428.32" y="442.80" width="3.20" height="4.80" fill="#fff" />
<rect x="428.32" y="458.40" width="3.20" height="4.80" fill="#fff" />
<rect x="434.19" y="442.80" width="3.20" height="4.80" fill="#fff" />
<rect x="434.19" y="458.40" width="3.20" height="4.80" fill="#fff" />
<rect x="440.05" y="442.80" width="3.20" height="4.80" fill="#fff" />
<rect x="440.05" y="458.40" width="3.20" height="4.80" fill="#fff" />
<rect x="445.92" y="442.80" width="3.20" height="4.80" fill="#fff" />
<rect x="445.92" y="458.40" width="3.20" height="4.80" fill="#fff" />
<rect x="451.78" y="442.80" width="3.20" height="4.80" fill="#fff" />
<rect x="451.78" y="458.40" width="3.20" height="4.80" fill="#fff" />
<rect x="457.65" y="442.80" width="3.20" height="4.80" fill="#fff" />
<rect x="457.65" y="458.40" width="3.20" height="4.80" fill="#fff" />
<rect x="463.51" y="442.80" width="3.20" height="4.80" fill="#fff" />
<rect x="463.51" y="458.40" width="3.20" height="4.80" fill="#fff" />
<rect x="469.38" y="442.80" width="3.20" height="4.80" fill="#fff" />
<rect x="469.38" y="458.40" width="3.20" height="4.80" fill="#fff" />
<rect x="475.24" y="442.80" width="3.20" height="4.80" fill="#fff" />
<rect x="475.24" y="458.40" width="3.20" height="4.80" fill="#fff" />
<rect x="403.60" y="450.60" width="34.20" height="4.80" fill="#fff" />
<rect x="442.00" y="450.60" width="34.20" height="4.80" fill="#fff" />
<rect x="396.00" y="450.60" width="2.20" height="4.80" fill="#fff" />
<rect x="396.00" y="466.40" width="85.00" height="25.00" fill="#000" />
<rect x="399.00" y="468.80" width="3.20" height="4.80" fill="#fff" />
<rect x="399.00" y="484.40" width="3.20" height="4.80" fill="#fff" />
<rect x="404.86" y="468.80" width="3.20" height="4.80" fill="#fff" />
<rect x="404.86" y="484.40" width="3.20" height="4.80" fill="#fff" />
<rect x="410.73" y="468.80" width="3.20" height="4.80" fill="#fff" />
<rect x="410.73" y="484.40" width="3.20" height="4.80" fill="#fff" />
<rect x="416.59" y="468.80" width="3.20" height="4.80" fill="#fff" />
<rect x="416.59" y="484.40" width="3.20" height="4.80" fill="#fff" />
<rect x="422.46" y="468.80" width="3.20" height="4.80" fill="#fff" />
<rect x="422.46" y="484.40" width="3.20" height="4.80" fill="#fff" />
<rect x="428.32" y="468.80" width="3.20" height="4.80" fill="#fff" />
<rect x="428.32" y="484.40" width="3.20" height="4.80" fill="#fff" />
<rect x="434.19" y="468.80" width="3.20" height="4.80" fill="#fff" />
<rect x="434.19" y="484.40" width="3.20" height="4.80" fill="#fff" />
<rect x="440.05" y="468.80" width="3.20" height="4.80" fill="#fff" />
<rect x="440.05" y="484.40" width="3.20" height="4.80" fill="#fff" />
<rect x="445.92" y="468.80" width="3.20" height="4.80" fill="#fff" />
<rect x="445.92" y="484.40" width="3.20" height="4.80" fill="#fff" />
<rect x="451.78" y="468.80" width="3.20" height="4.80" fill="#fff" />
<rect x="451.78" y="484.40" width="3.20" height="4.80" fill="#fff" />
<rect x="457.65" y="468.80" width="3.20" height="4.80" fill="#fff" />
<rect x="457.65" y="484.40" width="3.20" height="4.80" fill="#fff" />
<rect x="463.51" y="468.80" width="3.20" height="4.80" fill="#fff" />
<rect x="463.51" y="484.40" width="3.20" height="4.80" fill="#fff" />
<rect x="469.38" y="468.80" width="3.20" height="4.80" fill="#fff" />
<rect x="469.38" y="484.40" width="3.20" height="4.80" fill="#fff" />
<rect x="475.24" y="468.80" width="3.20" height="4.80" fill="#fff" />
<rect x="475.24" y="484.40" width="3.20" height="4.80" fill="#fff" />
<rect x="403.60" y="476.60" width="34.20" height="4.80" fill="#fff" />
<rect x="442.00" y="476.60" width="34.20" height="4.80" fill="#fff" />
<rect x="396.00" y="476.60" width="2.20" height="4.80" fill="#fff" />
<rect x="420.00" y="241.00" width="129.00" height="20.00" fill="#000" />
<rect x="428.00" y="248.00" width="113.30" height="6.20" fill="#fff" />
<rect x="558.70" y="241.00" width="202.30" height="20.00" fill="#000" />
<rect x="566.80" y="248.20" width="186.00" height="5.80" fill="#fff" />
<rect x="561.00" y="331.00" width="12.00" height="118.50" fill="#000" />
<rect x="562.00" y="332.50" width="10.00" height="1.20" fill="#fff" />
<rect x="566.40" y="332.00" width="1.40" height="116.50" fill="#fff" />
<rect x="562.00" y="337.00" width="10.00" height="1.40" fill="#fff" />
<rect x="562.00" y="343.00" width="10.00" height="1.40" fill="#fff" />
<rect x="562.00" y="349.00" width="10.00" height="1.40" fill="#fff" />
<rect x="562.00" y="355.00" width="10.00" height="1.40" fill="#fff" />
<rect x="562.00" y="361.00" width="10.00" height="1.40" fill="#fff" />
<rect x="562.00" y="367.00" width="10.00" height="1.40" fill="#fff" />
<rect x="562.00" y="372.00" width="10.00" height="1.40" fill="#fff" />
<rect x="562.00" y="378.00" width="10.00" height="1.40" fill="#fff" />
<rect x="562.00" y="384.00" width="10.00" height="1.40" fill="#fff" />
<rect x="562.00" y="390.00" width="10.00" height="1.40" fill="#fff" />
<rect x="562.00" y="396.00" width="10.00" height="1.40" fill="#fff" />
<rect x="562.00" y="402.00" width="10.00" height="1.40" fill="#fff" />
<rect x="562.00" y="408.00" width="10.00" height="1.40" fill="#fff" />
<rect x="562.00" y="414.00" width="10.00" height="1.40" fill="#fff" />
<rect x="562.00" y="420.00" width="10.00" height="1.40" fill="#fff" />
<rect x="562.00" y="426.00" width="10.00" height="1.40" fill="#fff" />
<rect x="562.00" y="432.00" width="10.00" height="1.40" fill="#fff" />
<rect x="562.00" y="437.00" width="10.00" height="1.40" fill="#fff" />
<rect x="562.00" y="443.00" width="10.00" height="1.40" fill="#fff" />
<rect x="562.60" y="334.00" width="3.20" height="2.60" fill="#fff" />
<rect x="563.50" y="334.80" width="1.40" height="1.10" fill="#000" />
<rect x="581.00" y="331.00" width="12.50" height="100.50" fill="#000" />
<rect x="582.00" y="332.50" width="10.50" height="1.20" fill="#fff" />
<rect x="587.40" y="332.00" width="1.40" height="98.50" fill="#fff" />
<rect x="591.60" y="332.00" width="1.00" height="98.50" fill="#fff" />
<rect x="582.00" y="337.00" width="10.50" height="1.40" fill="#fff" />
<rect x="582.00" y="343.00" width="10.50" height="1.40" fill="#fff" />
<rect x="582.00" y="349.00" width="10.50" height="1.40" fill="#fff" />
<rect x="582.00" y="355.00" width="10.50" height="1.40" fill="#fff" />
<rect x="582.00" y="361.00" width="10.50" height="1.40" fill="#fff" />
<rect x="582.00" y="367.00" width="10.50" height="1.40" fill="#fff" />
<rect x="582.00" y="372.00" width="10.50" height="1.40" fill="#fff" />
<rect x="582.00" y="378.00" width="10.50" height="1.40" fill="#fff" />
<rect x="582.00" y="384.00" width="10.50" height="1.40" fill="#fff" />
<rect x="582.00" y="390.00" width="10.50" height="1.40" fill="#fff" />
<rect x="582.00" y="396.00" width="10.50" height="1.40" fill="#fff" />
<rect x="582.00" y="402.00" width="10.50" height="1.40" fill="#fff" />
<rect x="582.00" y="408.00" width="10.50" height="1.40" fill="#fff" />
<rect x="582.00" y="414.00" width="10.50" height="1.40" fill="#fff" />
<rect x="582.00" y="420.00" width="10.50" height="1.40" fill="#fff" />
<rect x="582.00" y="426.00" width="10.50" height="1.40" fill="#fff" />
<rect x="582.60" y="334.00" width="3.20" height="2.60" fill="#fff" />
<rect x="583.50" y="334.80" width="1.40" height="1.10" fill="#000" />
<rect x="679.00" y="88.00" width="49.00" height="13.00" fill="#000" />
<rect x="680.00" y="89.50" width="1.00" height="10.50" fill="#fff" />
<rect x="685.75" y="89.50" width="1.00" height="10.50" fill="#fff" />
<rect x="691.50" y="89.50" width="1.00" height="10.50" fill="#fff" />
<rect x="697.25" y="89.50" width="1.00" height="10.50" fill="#fff" />
<rect x="703.00" y="89.50" width="1.00" height="10.50" fill="#fff" />
<rect x="708.75" y="89.50" width="1.00" height="10.50" fill="#fff" />
<rect x="714.50" y="89.50" width="1.00" height="10.50" fill="#fff" />
<rect x="720.25" y="89.50" width="1.00" height="10.50" fill="#fff" />
<rect x="726.00" y="89.50" width="1.00" height="10.50" fill="#fff" />
<rect x="680.00" y="94.00" width="47.00" height="1.20" fill="#fff" />
<rect x="680.00" y="99.30" width="47.00" height="1.10" fill="#fff" />
<rect x="682.00" y="96.30" width="3.00" height="1.80" fill="#fff" />
<rect x="732.00" y="65.00" width="41.00" height="13.00" fill="#000" />
<rect x="733.00" y="66.00" width="4.60" height="1.00" fill="#fff" />
<rect x="733.00" y="71.00" width="4.60" height="1.00" fill="#fff" />
<rect x="739.85" y="66.00" width="4.60" height="1.00" fill="#fff" />
<rect x="739.85" y="71.00" width="4.60" height="1.00" fill="#fff" />
<rect x="746.70" y="66.00" width="4.60" height="1.00" fill="#fff" />
<rect x="746.70" y="71.00" width="4.60" height="1.00" fill="#fff" />
<rect x="753.55" y="66.00" width="4.60" height="1.00" fill="#fff" />
<rect x="753.55" y="71.00" width="4.60" height="1.00" fill="#fff" />
<rect x="760.40" y="66.00" width="4.60" height="1.00" fill="#fff" />
<rect x="760.40" y="71.00" width="4.60" height="1.00" fill="#fff" />
<rect x="767.25" y="66.00" width="4.60" height="1.00" fill="#fff" />
<rect x="767.25" y="71.00" width="4.60" height="1.00" fill="#fff" />
<rect x="746.20" y="66.00" width="1.00" height="11.00" fill="#fff" />
<rect x="771.00" y="66.00" width="1.00" height="11.00" fill="#fff" />
<rect x="403.00" y="347.00" width="14.00" height="22.00" fill="#000" />
<rect x="403.00" y="361.60" width="14.00" height="0.90" fill="#fff" />
<rect x="404.30" y="348.50" width="1.00" height="4.50" fill="#fff" />
<rect x="404.30" y="355.50" width="1.00" height="5.00" fill="#fff" />
<rect x="404.30" y="363.50" width="1.00" height="4.20" fill="#fff" />
<rect x="409.40" y="348.50" width="1.00" height="4.50" fill="#fff" />
<rect x="409.40" y="355.50" width="1.00" height="5.00" fill="#fff" />
<rect x="409.40" y="363.50" width="1.00" height="4.20" fill="#fff" />
<rect x="415.20" y="348.50" width="1.00" height="4.50" fill="#fff" />
<rect x="415.20" y="355.50" width="1.00" height="5.00" fill="#fff" />
<rect x="415.20" y="363.50" width="1.00" height="4.20" fill="#fff" />
<rect x="404.30" y="355.50" width="11.90" height="1.00" fill="#fff" />
<rect x="404.30" y="366.80" width="11.90" height="1.00" fill="#fff" />
<rect x="744.00" y="474.00" width="26.00" height="7.00" fill="#000" />
<rect x="745.00" y="475.20" width="2.00" height="4.60" fill="#fff" />
<rect x="750.50" y="475.20" width="1.60" height="4.60" fill="#fff" />
<rect x="756.60" y="475.20" width="1.60" height="4.60" fill="#fff" />
<rect x="761.50" y="475.20" width="2.00" height="4.60" fill="#fff" />
<rect x="764.50" y="475.20" width="3.00" height="4.60" fill="#fff" />
<rect x="765.30" y="476.50" width="1.50" height="2.00" fill="#000" />
<rect x="768.00" y="475.20" width="1.00" height="4.60" fill="#fff" />
<rect x="606.00" y="432.00" width="126.00" height="42.60" fill="#000" />
<rect x="609.00" y="434.00" width="3.20" height="1.00" fill="#fff" />
<rect x="615.60" y="434.00" width="3.20" height="1.00" fill="#fff" />
<rect x="622.20" y="434.00" width="3.20" height="1.00" fill="#fff" />
<rect x="628.80" y="434.00" width="3.20" height="1.00" fill="#fff" />
<rect x="635.40" y="434.00" width="3.20" height="1.00" fill="#fff" />
<rect x="642.00" y="434.00" width="3.20" height="1.00" fill="#fff" />
<rect x="648.60" y="434.00" width="3.20" height="1.00" fill="#fff" />
<rect x="655.20" y="434.00" width="3.20" height="1.00" fill="#fff" />
<rect x="661.80" y="434.00" width="3.20" height="1.00" fill="#fff" />
<rect x="668.40" y="434.00" width="3.20" height="1.00" fill="#fff" />
<rect x="675.00" y="434.00" width="3.20" height="1.00" fill="#fff" />
<rect x="681.60" y="434.00" width="3.20" height="1.00" fill="#fff" />
<rect x="688.20" y="434.00" width="3.20" height="1.00" fill="#fff" />
<rect x="694.80" y="434.00" width="3.20" height="1.00" fill="#fff" />
<rect x="701.40" y="434.00" width="3.20" height="1.00" fill="#fff" />
<rect x="708.00" y="434.00" width="3.20" height="1.00" fill="#fff" />
<rect x="714.60" y="434.00" width="3.20" height="1.00" fill="#fff" />
<rect x="721.20" y="434.00" width="3.20" height="1.00" fill="#fff" />
<rect x="727.80" y="434.00" width="3.20" height="1.00" fill="#fff" />
<rect x="611.50" y="489.50" width="111.00" height="23.00" fill="#fff" stroke="#000" stroke-width="1" />
<rect x="611.60" y="493.40" width="8.40" height="1.80" fill="#000" />
<rect x="613.80" y="491.80" width="4.00" height="4.70" fill="#000" />
<rect x="612.00" y="499.00" width="7.60" height="2.80" fill="#000" />
<rect x="613.50" y="499.90" width="1.00" height="1.00" fill="#fff" />
<rect x="615.30" y="499.90" width="1.00" height="1.00" fill="#fff" />
<rect x="617.10" y="499.90" width="1.00" height="1.00" fill="#fff" />
<rect x="620.85" y="493.40" width="8.40" height="1.80" fill="#000" />
<rect x="623.05" y="491.80" width="4.00" height="4.70" fill="#000" />
<rect x="621.25" y="499.00" width="7.60" height="2.80" fill="#000" />
<rect x="622.75" y="499.90" width="1.00" height="1.00" fill="#fff" />
<rect x="624.55" y="499.90" width="1.00" height="1.00" fill="#fff" />
<rect x="626.35" y="499.90" width="1.00" height="1.00" fill="#fff" />
<rect x="630.10" y="493.40" width="8.40" height="1.80" fill="#000" />
<rect x="632.30" y="491.80" width="4.00" height="4.70" fill="#000" />
<rect x="630.50" y="499.00" width="7.60" height="2.80" fill="#000" />
<rect x="632.00" y="499.90" width="1.00" height="1.00" fill="#fff" />
<rect x="633.80" y="499.90" width="1.00" height="1.00" fill="#fff" />
<rect x="635.60" y="499.90" width="1.00" height="1.00" fill="#fff" />
<rect x="639.35" y="493.40" width="8.40" height="1.80" fill="#000" />
<rect x="641.55" y="491.80" width="4.00" height="4.70" fill="#000" />
<rect x="639.75" y="499.00" width="7.60" height="2.80" fill="#000" />
<rect x="641.25" y="499.90" width="1.00" height="1.00" fill="#fff" />
<rect x="643.05" y="499.90" width="1.00" height="1.00" fill="#fff" />
<rect x="644.85" y="499.90" width="1.00" height="1.00" fill="#fff" />
<rect x="648.60" y="493.40" width="8.40" height="1.80" fill="#000" />
<rect x="650.80" y="491.80" width="4.00" height="4.70" fill="#000" />
<rect x="649.00" y="499.00" width="7.60" height="2.80" fill="#000" />
<rect x="650.50" y="499.90" width="1.00" height="1.00" fill="#fff" />
<rect x="652.30" y="499.90" width="1.00" height="1.00" fill="#fff" />
<rect x="654.10" y="499.90" width="1.00" height="1.00" fill="#fff" />
<rect x="657.85" y="493.40" width="8.40" height="1.80" fill="#000" />
<rect x="660.05" y="491.80" width="4.00" height="4.70" fill="#000" />
<rect x="658.25" y="499.00" width="7.60" height="2.80" fill="#000" />
<rect x="659.75" y="499.90" width="1.00" height="1.00" fill="#fff" />
<rect x="661.55" y="499.90" width="1.00" height="1.00" fill="#fff" />
<rect x="663.35" y="499.90" width="1.00" height="1.00" fill="#fff" />
<rect x="667.10" y="493.40" width="8.40" height="1.80" fill="#000" />
<rect x="669.30" y="491.80" width="4.00" height="4.70" fill="#000" />
<rect x="667.50" y="499.00" width="7.60" height="2.80" fill="#000" />
<rect x="669.00" y="499.90" width="1.00" height="1.00" fill="#fff" />
<rect x="670.80" y="499.90" width="1.00" height="1.00" fill="#fff" />
<rect x="672.60" y="499.90" width="1.00" height="1.00" fill="#fff" />
<rect x="676.35" y="493.40" width="8.40" height="1.80" fill="#000" />
<rect x="678.55" y="491.80" width="4.00" height="4.70" fill="#000" />
<rect x="676.75" y="499.00" width="7.60" height="2.80" fill="#000" />
<rect x="678.25" y="499.90" width="1.00" height="1.00" fill="#fff" />
<rect x="680.05" y="499.90" width="1.00" height="1.00" fill="#fff" />
<rect x="681.85" y="499.90" width="1.00" height="1.00" fill="#fff" />
<rect x="685.60" y="493.40" width="8.40" height="1.80" fill="#000" />
<rect x="687.80" y="491.80" width="4.00" height="4.70" fill="#000" />
<rect x="686.00" y="499.00" width="7.60" height="2.80" fill="#000" />
<rect x="687.50" y="499.90" width="1.00" height="1.00" fill="#fff" />
<rect x="689.30" y="499.90" width="1.00" height="1.00" fill="#fff" />
<rect x="691.10" y="499.90" width="1.00" height="1.00" fill="#fff" />
<rect x="694.85" y="493.40" width="8.40" height="1.80" fill="#000" />
<rect x="697.05" y="491.80" width="4.00" height="4.70" fill="#000" />
<rect x="695.25" y="499.00" width="7.60" height="2.80" fill="#000" />
<rect x="696.75" y="499.90" width="1.00" height="1.00" fill="#fff" />
<rect x="698.55" y="499.90" width="1.00" height="1.00" fill="#fff" />
<rect x="700.35" y="499.90" width="1.00" height="1.00" fill="#fff" />
<rect x="704.10" y="493.40" width="8.40" height="1.80" fill="#000" />
<rect x="706.30" y="491.80" width="4.00" height="4.70" fill="#000" />
<rect x="704.50" y="499.00" width="7.60" height="2.80" fill="#000" />
<rect x="706.00" y="499.90" width="1.00" height="1.00" fill="#fff" />
<rect x="707.80" y="499.90" width="1.00" height="1.00" fill="#fff" />
<rect x="709.60" y="499.90" width="1.00" height="1.00" fill="#fff" />
<rect x="713.35" y="493.40" width="8.40" height="1.80" fill="#000" />
<rect x="715.55" y="491.80" width="4.00" height="4.70" fill="#000" />
<rect x="713.75" y="499.00" width="7.60" height="2.80" fill="#000" />
<rect x="715.25" y="499.90" width="1.00" height="1.00" fill="#fff" />
<rect x="717.05" y="499.90" width="1.00" height="1.00" fill="#fff" />
<rect x="718.85" y="499.90" width="1.00" height="1.00" fill="#fff" />
<rect x="612.00" y="496.30" width="110.00" height="1.00" fill="#000" />
<rect x="616.50" y="503.50" width="6.00" height="5.80" fill="#fff" stroke="#000" stroke-width="1" />
<rect x="625.50" y="503.50" width="6.00" height="5.80" fill="#fff" stroke="#000" stroke-width="1" />
<rect x="635.50" y="503.50" width="6.00" height="5.80" fill="#fff" stroke="#000" stroke-width="1" />
<rect x="644.50" y="503.50" width="6.00" height="5.80" fill="#fff" stroke="#000" stroke-width="1" />
<rect x="654.50" y="503.50" width="6.00" height="5.80" fill="#fff" stroke="#000" stroke-width="1" />
<rect x="663.50" y="503.50" width="6.00" height="5.80" fill="#fff" stroke="#000" stroke-width="1" />
<rect x="672.50" y="503.50" width="6.00" height="5.80" fill="#fff" stroke="#000" stroke-width="1" />
<rect x="682.50" y="503.50" width="6.00" height="5.80" fill="#fff" stroke="#000" stroke-width="1" />
<rect x="691.50" y="503.50" width="6.00" height="5.80" fill="#fff" stroke="#000" stroke-width="1" />
<rect x="701.50" y="503.50" width="6.00" height="5.80" fill="#fff" stroke="#000" stroke-width="1" />
<rect x="710.50" y="503.50" width="6.00" height="5.80" fill="#fff" stroke="#000" stroke-width="1" />
<rect x="611.00" y="503.50" width="2.00" height="1.20" fill="#fff" />
<rect x="611.00" y="506.50" width="2.00" height="1.20" fill="#fff" />
<rect x="783.00" y="135.00" width="28.00" height="91.00" fill="#000" />
<path d="M813 135.5 H824 Q826.5 135.5 826.5 138 V221 L824 225.5 H813" fill="#fff" stroke="#000" stroke-width="1"/>
<rect x="803.50" y="126.50" width="17.00" height="5.00" fill="#fff" stroke="#000" stroke-width="1" />
<rect x="803.50" y="228.50" width="17.00" height="5.00" fill="#fff" stroke="#000" stroke-width="1" />
<rect x="807.00" y="124.00" width="4.00" height="111.00" fill="#000" />
<rect x="779.00" y="272.00" width="34.00" height="45.00" fill="#000" />
<path d="M813 272.5 H827 Q829.5 272.5 829.5 275 V310 L827 314.5 H813" fill="#fff" stroke="#000" stroke-width="1"/>
<rect x="804.50" y="264.50" width="18.00" height="5.00" fill="#fff" stroke="#000" stroke-width="1" />
<rect x="804.50" y="318.50" width="18.00" height="5.00" fill="#fff" stroke="#000" stroke-width="1" />
<rect x="807.00" y="261.00" width="6.00" height="68.00" fill="#000" />
<rect x="779.00" y="357.00" width="34.00" height="45.00" fill="#000" />
<path d="M813 358.5 H827 Q829.5 358.5 829.5 361 V394 L827 398.5 H813" fill="#fff" stroke="#000" stroke-width="1"/>
<rect x="804.50" y="350.50" width="18.00" height="5.00" fill="#fff" stroke="#000" stroke-width="1" />
<rect x="804.50" y="404.50" width="18.00" height="5.00" fill="#fff" stroke="#000" stroke-width="1" />
<rect x="807.00" y="346.00" width="6.00" height="68.00" fill="#000" />
<polygon points="783.00,457.00 807.00,457.00 807.00,452.50 810.00,452.50 810.00,450.50 813.00,450.50 813.00,501.00 810.00,501.00 810.00,499.00 807.00,499.00 807.00,494.50 783.00,494.50" fill="#000" />
<rect x="776.50" y="466.00" width="7.00" height="7.50" fill="#fff" stroke="#000" stroke-width="1" />
<rect x="776.50" y="478.00" width="7.00" height="7.50" fill="#fff" stroke="#000" stroke-width="1" />
<rect x="784.00" y="467.00" width="1.50" height="0.90" fill="#fff" />
<rect x="784.00" y="469.00" width="1.50" height="0.90" fill="#fff" />
<rect x="784.00" y="471.00" width="1.50" height="0.90" fill="#fff" />
<rect x="784.00" y="479.00" width="1.50" height="0.90" fill="#fff" />
<rect x="784.00" y="481.00" width="1.50" height="0.90" fill="#fff" />
<rect x="784.00" y="483.00" width="1.50" height="0.90" fill="#fff" />
<rect x="782.00" y="474.00" width="2.00" height="3.50" fill="#fff" />
<rect x="157.90" y="45.40" width="59.10" height="18.90" rx="3.5" fill="#000"/>
<rect x="159.90" y="48.10" width="55.10" height="13.50" rx="1.2" fill="#fff"/>
<g transform="translate(163.50,59.55) scale(0.72,1)"><text x="0" y="0" font-size="14.5" textLength="63.89" lengthAdjust="spacing" fill="#000">BANK 1</text></g>
<rect x="157.90" y="125.40" width="59.10" height="19.80" rx="3.5" fill="#000"/>
<rect x="159.90" y="128.10" width="55.10" height="14.40" rx="1.2" fill="#fff"/>
<g transform="translate(163.50,140.00) scale(0.72,1)"><text x="0" y="0" font-size="14.5" textLength="63.89" lengthAdjust="spacing" fill="#000">BANK 0</text></g>
<polygon points="71.93,83.90 57.30,87.80 72.07,91.10" fill="#000" />
<rect x="72.00" y="78.30" width="36.30" height="18.40" rx="3.5" fill="#000"/>
<rect x="74.00" y="81.00" width="32.30" height="13.00" rx="1.2" fill="#fff"/>
<polygon points="75.46,85.64 65.83,87.63 75.54,89.21" fill="#fff" />
<g transform="translate(90.15,92.20) scale(0.72,1)"><text x="0" y="0" font-size="14.5" letter-spacing="3.06" text-anchor="middle" fill="#000">J10</text></g>
<polygon points="72.52,111.20 57.30,114.30 72.28,118.40" fill="#000" />
<rect x="72.40" y="106.80" width="25.50" height="16.60" rx="3.5" fill="#000"/>
<rect x="74.40" y="109.50" width="21.50" height="11.20" rx="1.2" fill="#fff"/>
<polygon points="75.96,113.13 66.06,114.59 75.84,116.70" fill="#fff" />
<g transform="translate(85.15,119.80) scale(0.72,1)"><text x="0" y="0" font-size="14.5" letter-spacing="3.06" text-anchor="middle" fill="#000">J9</text></g>
<polygon points="72.45,129.20 57.30,132.60 72.35,136.40" fill="#000" />
<rect x="72.40" y="123.10" width="25.50" height="17.90" rx="3.5" fill="#000"/>
<rect x="74.40" y="125.80" width="21.50" height="12.50" rx="1.2" fill="#fff"/>
<polygon points="75.92,131.06 66.06,132.72 75.88,134.63" fill="#fff" />
<g transform="translate(85.15,136.75) scale(0.72,1)"><text x="0" y="0" font-size="14.5" letter-spacing="3.06" text-anchor="middle" fill="#000">J8</text></g>
<polygon points="33.75,152.10 48.30,148.70 33.85,144.90" fill="#000" />
<rect x="7.00" y="139.00" width="26.80" height="19.00" rx="3.5" fill="#000"/>
<rect x="9.00" y="141.70" width="22.80" height="13.60" rx="1.2" fill="#fff"/>
<polygon points="30.28,150.24 39.89,148.58 30.32,146.67" fill="#fff" />
<g transform="translate(20.40,153.20) scale(0.72,1)"><text x="0" y="0" font-size="14.5" letter-spacing="3.06" text-anchor="middle" fill="#000">J6</text></g>
<polygon points="33.17,175.60 48.30,171.70 33.03,168.40" fill="#000" />
<rect x="7.30" y="163.80" width="25.80" height="16.70" rx="3.5" fill="#000"/>
<rect x="9.30" y="166.50" width="21.80" height="11.30" rx="1.2" fill="#fff"/>
<polygon points="29.64,173.85 39.48,171.87 29.57,170.28" fill="#fff" />
<g transform="translate(20.20,176.85) scale(0.72,1)"><text x="0" y="0" font-size="14.5" letter-spacing="3.06" text-anchor="middle" fill="#000">J7</text></g>
<polygon points="33.17,199.60 48.30,195.70 33.03,192.40" fill="#000" />
<rect x="7.30" y="187.40" width="25.80" height="17.70" rx="3.5" fill="#000"/>
<rect x="9.30" y="190.10" width="21.80" height="12.30" rx="1.2" fill="#fff"/>
<polygon points="29.64,197.85 39.48,195.87 29.57,194.28" fill="#fff" />
<g transform="translate(20.20,200.95) scale(0.72,1)"><text x="0" y="0" font-size="14.5" letter-spacing="3.06" text-anchor="middle" fill="#000">J5</text></g>
<polygon points="124.48,159.77 134.20,187.40 131.52,158.23" fill="#000" />
<rect x="107.10" y="139.90" width="41.90" height="19.10" rx="3.5" fill="#000"/>
<rect x="109.10" y="142.60" width="37.90" height="13.70" rx="1.2" fill="#fff"/>
<polygon points="125.51,155.96 129.71,166.82 129.00,155.20" fill="#fff" />
<g transform="translate(128.05,154.15) scale(0.72,1)"><text x="0" y="0" font-size="14.5" letter-spacing="3.06" text-anchor="middle" fill="#000">JP10</text></g>
<polygon points="165.53,162.64 158.40,201.80 172.47,164.56" fill="#000" />
<rect x="164.90" y="144.20" width="41.10" height="19.40" rx="3.5" fill="#000"/>
<rect x="166.90" y="146.90" width="37.10" height="14.00" rx="1.2" fill="#fff"/>
<polygon points="168.22,159.75 166.86,171.31 171.66,160.70" fill="#fff" />
<g transform="translate(185.45,158.60) scale(0.72,1)"><text x="0" y="0" font-size="14.5" letter-spacing="3.06" text-anchor="middle" fill="#000">JP12</text></g>
<polygon points="107.95,180.61 131.90,212.00 114.05,176.79" fill="#000" />
<rect x="72.90" y="159.50" width="41.40" height="19.20" rx="3.5" fill="#000"/>
<rect x="74.90" y="162.20" width="37.40" height="13.80" rx="1.2" fill="#fff"/>
<polygon points="107.63,176.68 115.25,185.48 110.65,174.79" fill="#fff" />
<g transform="translate(93.60,173.80) scale(0.72,1)"><text x="0" y="0" font-size="14.5" letter-spacing="3.06" text-anchor="middle" fill="#000">JP18</text></g>
<polygon points="187.77,177.17 179.70,188.10 192.23,182.83" fill="#000" />
<rect x="187.20" y="161.30" width="41.00" height="18.90" rx="3.5" fill="#000"/>
<rect x="189.20" y="164.00" width="37.00" height="13.50" rx="1.2" fill="#fff"/>
<polygon points="191.65,176.43 185.67,183.40 193.85,179.24" fill="#fff" />
<g transform="translate(207.70,175.45) scale(0.72,1)"><text x="0" y="0" font-size="14.5" letter-spacing="3.06" text-anchor="middle" fill="#000">JP30</text></g>
<polygon points="201.03,193.99 191.10,204.80 204.97,200.01" fill="#000" />
<rect x="200.70" y="178.40" width="42.30" height="19.00" rx="3.5" fill="#000"/>
<rect x="202.70" y="181.10" width="38.30" height="13.60" rx="1.2" fill="#fff"/>
<polygon points="204.95,193.59 198.00,200.28 206.91,196.57" fill="#fff" />
<g transform="translate(221.85,192.60) scale(0.72,1)"><text x="0" y="0" font-size="14.5" letter-spacing="3.06" text-anchor="middle" fill="#000">JP11</text></g>
<polygon points="257.77,187.77 248.70,199.50 262.23,193.43" fill="#000" />
<rect x="256.80" y="174.50" width="39.50" height="16.10" rx="3.5" fill="#000"/>
<rect x="258.80" y="177.20" width="35.50" height="10.70" rx="1.2" fill="#fff"/>
<polygon points="261.65,187.03 255.25,194.34 263.85,189.84" fill="#fff" />
<g transform="translate(276.55,187.25) scale(0.72,1)"><text x="0" y="0" font-size="14.5" letter-spacing="3.06" text-anchor="middle" fill="#000">JP22</text></g>
<polygon points="94.50,200.47 104.30,201.00 97.50,193.93" fill="#000" />
<rect x="57.70" y="179.30" width="40.60" height="17.90" rx="3.5" fill="#000"/>
<rect x="59.70" y="182.00" width="36.60" height="12.50" rx="1.2" fill="#fff"/>
<polygon points="92.07,197.37 99.49,198.80 93.56,194.12" fill="#fff" />
<g transform="translate(78.00,192.95) scale(0.72,1)"><text x="0" y="0" font-size="14.5" letter-spacing="3.06" text-anchor="middle" fill="#000">JP19</text></g>
<polygon points="288.32,200.40 272.90,203.50 288.08,207.60" fill="#000" />
<rect x="288.20" y="195.50" width="41.20" height="17.70" rx="3.5" fill="#000"/>
<rect x="290.20" y="198.20" width="37.20" height="12.30" rx="1.2" fill="#fff"/>
<polygon points="291.76,202.33 281.77,203.79 291.64,205.90" fill="#fff" />
<g transform="translate(308.80,209.05) scale(0.72,1)"><text x="0" y="0" font-size="14.5" letter-spacing="3.06" text-anchor="middle" fill="#000">JP21</text></g>
<polygon points="80.46,218.10 97.20,214.70 80.54,210.90" fill="#000" />
<rect x="40.30" y="206.40" width="40.20" height="16.60" rx="3.5" fill="#000"/>
<rect x="42.30" y="209.10" width="36.20" height="11.20" rx="1.2" fill="#fff"/>
<polygon points="76.98,216.24 87.51,214.58 77.02,212.67" fill="#fff" />
<g transform="translate(60.40,219.40) scale(0.72,1)"><text x="0" y="0" font-size="14.5" letter-spacing="3.06" text-anchor="middle" fill="#000">JP20</text></g>
<polygon points="160.85,220.93 148.70,226.10 161.75,228.07" fill="#000" />
<rect x="161.30" y="215.40" width="41.20" height="18.20" rx="3.5" fill="#000"/>
<rect x="163.30" y="218.10" width="37.20" height="12.80" rx="1.2" fill="#fff"/>
<polygon points="164.55,222.29 156.01,225.17 165.00,225.83" fill="#fff" />
<g transform="translate(181.90,229.20) scale(0.72,1)"><text x="0" y="0" font-size="14.5" letter-spacing="3.06" text-anchor="middle" fill="#000">JP14</text></g>
<polygon points="235.60,224.46 231.80,206.80 228.40,224.54" fill="#000" />
<rect x="211.60" y="224.50" width="42.80" height="17.80" rx="3.5" fill="#000"/>
<rect x="213.60" y="227.20" width="38.80" height="12.40" rx="1.2" fill="#fff"/>
<polygon points="233.82,227.98 231.92,217.07 230.25,228.02" fill="#fff" />
<g transform="translate(233.00,238.10) scale(0.72,1)"><text x="0" y="0" font-size="14.5" letter-spacing="3.06" text-anchor="middle" fill="#000">JP23</text></g>
<polygon points="81.55,235.44 97.20,226.90 79.45,228.56" fill="#000" />
<rect x="40.30" y="225.40" width="40.20" height="16.60" rx="3.5" fill="#000"/>
<rect x="42.30" y="228.10" width="36.20" height="11.20" rx="1.2" fill="#fff"/>
<polygon points="77.67,234.73 87.51,229.86 76.63,231.32" fill="#fff" />
<g transform="translate(60.40,238.40) scale(0.72,1)"><text x="0" y="0" font-size="14.5" letter-spacing="3.06" text-anchor="middle" fill="#000">JP16</text></g>
<polygon points="88.11,249.52 97.50,238.30 83.89,243.68" fill="#000" />
<rect x="49.50" y="246.40" width="40.00" height="17.70" rx="3.5" fill="#000"/>
<rect x="51.50" y="249.10" width="36.00" height="12.30" rx="1.2" fill="#fff"/>
<polygon points="84.21,250.10 90.83,243.11 82.12,247.20" fill="#fff" />
<g transform="translate(69.50,259.95) scale(0.72,1)"><text x="0" y="0" font-size="14.5" letter-spacing="3.06" text-anchor="middle" fill="#000">JP17</text></g>
<polygon points="177.31,248.24 165.30,242.90 172.69,253.76" fill="#000" />
<rect x="172.60" y="250.20" width="40.50" height="17.90" rx="3.5" fill="#000"/>
<rect x="174.60" y="252.90" width="36.50" height="12.50" rx="1.2" fill="#fff"/>
<polygon points="178.83,251.87 170.93,247.60 176.54,254.61" fill="#fff" />
<g transform="translate(192.85,263.85) scale(0.72,1)"><text x="0" y="0" font-size="14.5" letter-spacing="3.06" text-anchor="middle" fill="#000">JP13</text></g>
<polygon points="139.60,256.96 135.80,240.50 132.40,257.04" fill="#000" />
<rect x="114.80" y="256.50" width="43.40" height="19.70" rx="3.5" fill="#000"/>
<rect x="116.80" y="259.20" width="39.40" height="14.30" rx="1.2" fill="#fff"/>
<polygon points="137.83,260.48 135.92,250.07 134.26,260.52" fill="#fff" />
<g transform="translate(136.50,271.05) scale(0.72,1)"><text x="0" y="0" font-size="14.5" letter-spacing="3.06" text-anchor="middle" fill="#000">JP15</text></g>
<rect x="101.30" y="279.20" width="32.70" height="17.10" rx="3.5" fill="#000"/>
<rect x="103.30" y="281.90" width="28.70" height="11.70" rx="1.2" fill="#fff"/>
<g transform="translate(117.65,292.45) scale(0.72,1)"><text x="0" y="0" font-size="14.5" letter-spacing="3.06" text-anchor="middle" fill="#000">NPU</text></g>
<polygon points="407.40,328.70 410.50,347.50 414.60,328.90" fill="#000" />
<rect x="394.00" y="311.50" width="33.80" height="17.30" rx="3.5" fill="#000"/>
<rect x="396.00" y="314.20" width="29.80" height="11.90" rx="1.2" fill="#fff"/>
<polygon points="409.31,325.25 410.79,336.65 412.88,325.35" fill="#fff" />
<g transform="translate(410.90,324.85) scale(0.72,1)"><text x="0" y="0" font-size="14.5" letter-spacing="3.06" text-anchor="middle" fill="#000">JP7</text></g>
<polygon points="386.80,361.20 402.60,357.60 386.80,354.00" fill="#000" />
<rect x="352.20" y="349.00" width="34.60" height="17.20" rx="3.5" fill="#000"/>
<rect x="354.20" y="351.70" width="30.60" height="11.80" rx="1.2" fill="#fff"/>
<polygon points="383.30,359.39 393.44,357.60 383.30,355.81" fill="#fff" />
<g transform="translate(369.50,362.30) scale(0.72,1)"><text x="0" y="0" font-size="14.5" letter-spacing="3.06" text-anchor="middle" fill="#000">JP9</text></g>
<polygon points="425.72,354.22 418.50,364.80 430.28,359.78" fill="#000" />
<rect x="425.00" y="340.30" width="33.80" height="18.00" rx="3.5" fill="#000"/>
<rect x="427.00" y="343.00" width="29.80" height="12.60" rx="1.2" fill="#fff"/>
<polygon points="429.57,353.40 424.01,360.28 431.84,356.16" fill="#fff" />
<g transform="translate(441.90,354.00) scale(0.72,1)"><text x="0" y="0" font-size="14.5" letter-spacing="3.06" text-anchor="middle" fill="#000">JP8</text></g>
<polygon points="167.67,494.75 179.80,500.30 172.33,489.25" fill="#000" />
<rect x="139.30" y="474.90" width="34.00" height="18.70" rx="3.5" fill="#000"/>
<rect x="141.30" y="477.60" width="30.00" height="13.30" rx="1.2" fill="#fff"/>
<polygon points="166.18,491.10 174.12,495.49 168.48,488.38" fill="#fff" />
<g transform="translate(156.30,488.95) scale(0.72,1)"><text x="0" y="0" font-size="14.5" letter-spacing="3.06" text-anchor="middle" fill="#000">JP4</text></g>
<polygon points="133.90,508.20 148.50,504.60 133.90,501.00" fill="#000" />
<rect x="98.20" y="495.40" width="35.70" height="18.40" rx="3.5" fill="#000"/>
<rect x="100.20" y="498.10" width="31.70" height="13.00" rx="1.2" fill="#fff"/>
<polygon points="130.40,506.39 140.03,504.60 130.40,502.81" fill="#fff" />
<g transform="translate(116.05,509.30) scale(0.72,1)"><text x="0" y="0" font-size="14.5" letter-spacing="3.06" text-anchor="middle" fill="#000">JP5</text></g>
<polygon points="228.30,500.40 211.70,504.00 228.30,507.60" fill="#000" />
<rect x="228.30" y="495.30" width="33.90" height="16.80" rx="3.5" fill="#000"/>
<rect x="230.30" y="498.00" width="29.90" height="11.40" rx="1.2" fill="#fff"/>
<polygon points="231.80,502.21 221.33,504.00 231.80,505.79" fill="#fff" />
<g transform="translate(245.25,508.40) scale(0.72,1)"><text x="0" y="0" font-size="14.5" letter-spacing="3.06" text-anchor="middle" fill="#000">JP3</text></g>
<polygon points="594.77,319.18 587.00,329.90 599.23,324.82" fill="#000" />
<rect x="594.10" y="304.20" width="33.60" height="18.50" rx="3.5" fill="#000"/>
<rect x="596.10" y="306.90" width="29.60" height="13.10" rx="1.2" fill="#fff"/>
<polygon points="598.64,318.43 592.80,325.32 600.85,321.23" fill="#fff" />
<g transform="translate(610.90,318.15) scale(0.72,1)"><text x="0" y="0" font-size="14.5" letter-spacing="3.06" text-anchor="middle" fill="#000">CN1</text></g>
<polygon points="543.82,349.10 558.80,345.00 543.58,341.90" fill="#000" />
<rect x="508.40" y="337.30" width="35.30" height="17.30" rx="3.5" fill="#000"/>
<rect x="510.40" y="340.00" width="31.30" height="11.90" rx="1.2" fill="#fff"/>
<polygon points="540.26,347.40 550.04,345.29 540.14,343.83" fill="#fff" />
<g transform="translate(526.05,350.65) scale(0.72,1)"><text x="0" y="0" font-size="14.5" letter-spacing="3.06" text-anchor="middle" fill="#000">CN5</text></g>
<polygon points="751.40,35.91 755.10,63.00 758.60,35.89" fill="#000" />
<rect x="733.90" y="18.80" width="41.70" height="17.10" rx="3.5" fill="#000"/>
<rect x="735.90" y="21.50" width="37.70" height="11.70" rx="1.2" fill="#fff"/>
<polygon points="753.20,32.41 755.03,43.90 756.77,32.39" fill="#fff" />
<g transform="translate(754.75,32.05) scale(0.72,1)"><text x="0" y="0" font-size="14.5" letter-spacing="3.06" text-anchor="middle" fill="#000">JP26</text></g>
<polygon points="734.64,56.72 747.40,63.00 739.36,51.28" fill="#000" />
<rect x="699.40" y="37.50" width="40.70" height="17.10" rx="3.5" fill="#000"/>
<rect x="701.40" y="40.20" width="36.70" height="11.70" rx="1.2" fill="#fff"/>
<polygon points="733.19,53.06 741.37,57.78 735.52,50.36" fill="#fff" />
<g transform="translate(719.75,50.75) scale(0.72,1)"><text x="0" y="0" font-size="14.5" letter-spacing="3.06" text-anchor="middle" fill="#000">JP27</text></g>
<polygon points="769.45,51.45 763.00,63.00 774.55,56.55" fill="#000" />
<rect x="769.30" y="38.40" width="40.70" height="16.20" rx="3.5" fill="#000"/>
<rect x="771.30" y="41.10" width="36.70" height="10.80" rx="1.2" fill="#fff"/>
<polygon points="773.21,50.26 768.22,57.78 775.74,52.79" fill="#fff" />
<g transform="translate(789.65,51.20) scale(0.72,1)"><text x="0" y="0" font-size="14.5" letter-spacing="3.06" text-anchor="middle" fill="#000">JP25</text></g>
<polygon points="715.12,74.60 732.20,70.90 715.08,67.40" fill="#000" />
<rect x="674.40" y="62.60" width="40.70" height="17.10" rx="3.5" fill="#000"/>
<rect x="676.40" y="65.30" width="36.70" height="11.70" rx="1.2" fill="#fff"/>
<polygon points="711.61,72.81 722.28,70.96 711.59,69.24" fill="#fff" />
<g transform="translate(694.75,75.85) scale(0.72,1)"><text x="0" y="0" font-size="14.5" letter-spacing="3.06" text-anchor="middle" fill="#000">JP29</text></g>
<polygon points="787.56,81.47 773.50,72.40 782.44,86.53" fill="#000" />
<rect x="764.70" y="82.80" width="41.10" height="17.70" rx="3.5" fill="#000"/>
<rect x="766.70" y="85.50" width="37.10" height="12.30" rx="1.2" fill="#fff"/>
<polygon points="788.73,85.23 780.17,79.13 786.20,87.74" fill="#fff" />
<g transform="translate(785.25,96.35) scale(0.72,1)"><text x="0" y="0" font-size="14.5" letter-spacing="3.06" text-anchor="middle" fill="#000">JP24</text></g>
<polygon points="755.32,102.60 742.20,80.70 748.68,105.40" fill="#000" />
<rect x="749.50" y="103.70" width="40.70" height="16.70" rx="3.5" fill="#000"/>
<rect x="751.50" y="106.40" width="36.70" height="11.30" rx="1.2" fill="#fff"/>
<polygon points="755.00,106.53 748.90,96.63 751.71,107.92" fill="#fff" />
<g transform="translate(769.85,116.75) scale(0.72,1)"><text x="0" y="0" font-size="14.5" letter-spacing="3.06" text-anchor="middle" fill="#000">JP28</text></g>
<polygon points="707.60,119.52 703.60,101.00 700.40,119.68" fill="#000" />
<rect x="688.40" y="119.60" width="31.90" height="17.20" rx="3.5" fill="#000"/>
<rect x="690.40" y="122.30" width="27.90" height="11.80" rx="1.2" fill="#fff"/>
<polygon points="705.86,123.06 703.83,111.79 702.29,123.14" fill="#fff" />
<g transform="translate(704.35,132.90) scale(0.72,1)"><text x="0" y="0" font-size="14.5" letter-spacing="3.06" text-anchor="middle" fill="#000">CN6</text></g>
<polygon points="759.90,438.85 763.30,454.40 767.10,438.95" fill="#000" />
<rect x="747.30" y="420.00" width="33.30" height="18.90" rx="3.5" fill="#000"/>
<rect x="749.30" y="422.70" width="29.30" height="13.50" rx="1.2" fill="#fff"/>
<polygon points="761.76,435.38 763.42,445.41 765.33,435.42" fill="#fff" />
<g transform="translate(763.95,434.15) scale(0.72,1)"><text x="0" y="0" font-size="14.5" letter-spacing="3.06" text-anchor="middle" fill="#000">JP6</text></g>
<polygon points="761.60,498.12 757.10,480.60 754.40,498.48" fill="#000" />
<rect x="745.10" y="498.30" width="25.90" height="17.80" rx="3.5" fill="#000"/>
<rect x="747.10" y="501.00" width="21.90" height="12.40" rx="1.2" fill="#fff"/>
<polygon points="759.96,501.70 757.62,490.87 756.40,501.89" fill="#fff" />
<g transform="translate(758.05,511.90) scale(0.72,1)"><text x="0" y="0" font-size="14.5" letter-spacing="3.06" text-anchor="middle" fill="#000">J3</text></g>
<polygon points="765.97,182.60 781.30,178.70 765.83,175.40" fill="#000" />
<rect x="729.90" y="169.60" width="36.00" height="19.20" rx="3.5" fill="#000"/>
<rect x="731.90" y="172.30" width="32.00" height="13.80" rx="1.2" fill="#fff"/>
<polygon points="762.44,180.85 772.37,178.87 762.37,177.28" fill="#fff" />
<g transform="translate(747.90,183.90) scale(0.72,1)"><text x="0" y="0" font-size="14.5" letter-spacing="3.06" text-anchor="middle" fill="#000">CN5</text></g>
<polygon points="762.50,298.40 778.20,294.80 762.50,291.20" fill="#000" />
<rect x="727.00" y="285.40" width="35.50" height="17.50" rx="3.5" fill="#000"/>
<rect x="729.00" y="288.10" width="31.50" height="12.10" rx="1.2" fill="#fff"/>
<polygon points="759.00,296.59 769.09,294.80 759.00,293.01" fill="#fff" />
<g transform="translate(744.75,298.85) scale(0.72,1)"><text x="0" y="0" font-size="14.5" letter-spacing="3.06" text-anchor="middle" fill="#000">CN3</text></g>
<polygon points="762.50,383.20 778.20,379.60 762.50,376.00" fill="#000" />
<rect x="727.00" y="369.80" width="35.50" height="18.50" rx="3.5" fill="#000"/>
<rect x="729.00" y="372.50" width="31.50" height="13.10" rx="1.2" fill="#fff"/>
<polygon points="759.00,381.39 769.09,379.60 759.00,377.81" fill="#fff" />
<g transform="translate(744.75,383.75) scale(0.72,1)"><text x="0" y="0" font-size="14.5" letter-spacing="3.06" text-anchor="middle" fill="#000">CN2</text></g>
<polygon points="448.07,508.10 463.40,504.20 447.93,500.90" fill="#000" />
<rect x="413.10" y="495.60" width="34.90" height="17.80" rx="3.5" fill="#000"/>
<rect x="415.10" y="498.30" width="30.90" height="12.40" rx="1.2" fill="#fff"/>
<polygon points="444.54,506.35 454.47,504.37 444.47,502.78" fill="#fff" />
<g transform="translate(430.55,509.20) scale(0.72,1)"><text x="0" y="0" font-size="14.5" letter-spacing="3.06" text-anchor="middle" fill="#000">JP2</text></g>
<polygon points="510.47,500.90 495.00,504.20 510.33,508.10" fill="#000" />
<rect x="510.40" y="495.60" width="34.60" height="17.80" rx="3.5" fill="#000"/>
<rect x="512.40" y="498.30" width="30.60" height="12.40" rx="1.2" fill="#fff"/>
<polygon points="513.93,502.78 503.93,504.37 513.86,506.35" fill="#fff" />
<g transform="translate(527.70,509.20) scale(0.72,1)"><text x="0" y="0" font-size="14.5" letter-spacing="3.06" text-anchor="middle" fill="#000">JP1</text></g>
<rect x="80.8" y="447.9" width="30.200000000000003" height="14.0" rx="2.5" fill="#fff"/>
<g transform="translate(81.60,459.90) scale(0.72,1)"><text x="0" y="0" font-size="14.5" textLength="35.83" lengthAdjust="spacing" fill="#000">CPU</text></g>
<rect x="231.2" y="433" width="31.900000000000034" height="14.199999999999989" rx="2.5" fill="#fff"/>
<g transform="translate(233.00,445.10) scale(0.72,1)"><text x="0" y="0" font-size="14.5" textLength="38.89" lengthAdjust="spacing" fill="#000">CPU</text></g>
<rect x="655" y="446" width="28" height="14.800000000000011" rx="2.5" fill="#fff"/>
<g transform="translate(657.50,458.40) scale(0.72,1)"><text x="0" y="0" font-size="14.5" textLength="31.94" lengthAdjust="spacing" fill="#000">KBD</text></g>
<rect x="374.4" y="436.8" width="47.10000000000002" height="14.399999999999977" rx="2.5" fill="#fff"/>
<g transform="translate(375.90,449.00) scale(0.72,1)"><text x="0" y="0" font-size="14.5" textLength="59.31" lengthAdjust="spacing" fill="#000">CACHE</text></g>
<rect x="333.50" y="376.20" width="33.00" height="17.60" fill="#000" />
<rect x="335.8" y="378" width="28.2" height="13.9" rx="1.5" fill="#fff"/>
<g transform="translate(337.80,390.00) scale(0.72,1)"><text x="0" y="0" font-size="14.5" textLength="32.50" lengthAdjust="spacing" fill="#000">TAG</text></g>
<g transform="translate(633.40,275.00) scale(0.68,1)"><text x="0" y="0" font-size="13" letter-spacing="2.87" fill="#000">MH1285</text></g>
</svg>
</body></html>
